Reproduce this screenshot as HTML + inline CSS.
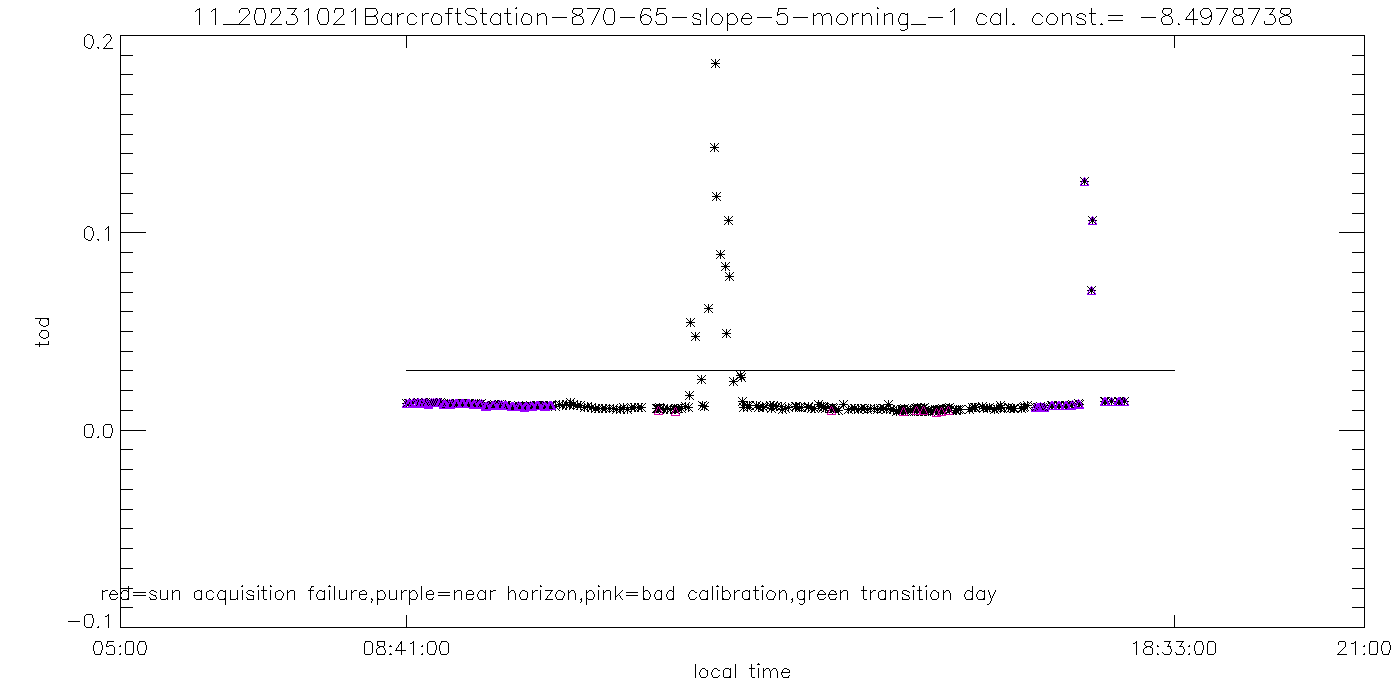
<!DOCTYPE html>
<html lang="en"><head><meta charset="utf-8"><title>tod vs local time</title>
<style>
html,body{margin:0;padding:0;background:#fff;font-family:"Liberation Sans",sans-serif}
svg{display:block;shape-rendering:crispEdges}
path{fill:none;stroke-width:1}
</style></head><body>
<svg width="1400" height="700" viewBox="0 0 1400 700" role="img" aria-label="tod versus local time">
<desc>11_20231021BarcroftStation-870-65-slope-5-morning_-1 cal. const.= -8.4978738. Y axis: tod, 0.2 to -0.1. X axis: local time, 05:00, 08:41:00, 18:33:00, 21:00. red=sun acquisition failure,purple=near horizon,pink=bad calibration,green transition day</desc>
<rect width="1400" height="700" fill="#fff"/>
<g id="axes"><path id="frame" stroke="#000" d="M120 35.5h1245m-1245 1h1m1243 0h1m-1245 1h1m1243 0h1m-1245 1h1m1243 0h1m-1245 1h1m1243 0h1m-1245 1h1m1243 0h1m-1245 1h1m1243 0h1m-1245 1h1m1243 0h1m-1245 1h1m1243 0h1m-1245 1h1m1243 0h1m-1245 1h1m1243 0h1m-1245 1h1m1243 0h1m-1245 1h1m1243 0h1m-1245 1h1m1243 0h1m-1245 1h1m1243 0h1m-1245 1h1m1243 0h1m-1245 1h1m1243 0h1m-1245 1h1m1243 0h1m-1245 1h1m1243 0h1m-1245 1h1m1243 0h1m-1245 1h1m1243 0h1m-1245 1h1m1243 0h1m-1245 1h1m1243 0h1m-1245 1h1m1243 0h1m-1245 1h1m1243 0h1m-1245 1h1m1243 0h1m-1245 1h1m1243 0h1m-1245 1h1m1243 0h1m-1245 1h1m1243 0h1m-1245 1h1m1243 0h1m-1245 1h1m1243 0h1m-1245 1h1m1243 0h1m-1245 1h1m1243 0h1m-1245 1h1m1243 0h1m-1245 1h1m1243 0h1m-1245 1h1m1243 0h1m-1245 1h1m1243 0h1m-1245 1h1m1243 0h1m-1245 1h1m1243 0h1m-1245 1h1m1243 0h1m-1245 1h1m1243 0h1m-1245 1h1m1243 0h1m-1245 1h1m1243 0h1m-1245 1h1m1243 0h1m-1245 1h1m1243 0h1m-1245 1h1m1243 0h1m-1245 1h1m1243 0h1m-1245 1h1m1243 0h1m-1245 1h1m1243 0h1m-1245 1h1m1243 0h1m-1245 1h1m1243 0h1m-1245 1h1m1243 0h1m-1245 1h1m1243 0h1m-1245 1h1m1243 0h1m-1245 1h1m1243 0h1m-1245 1h1m1243 0h1m-1245 1h1m1243 0h1m-1245 1h1m1243 0h1m-1245 1h1m1243 0h1m-1245 1h1m1243 0h1m-1245 1h1m1243 0h1m-1245 1h1m1243 0h1m-1245 1h1m1243 0h1m-1245 1h1m1243 0h1m-1245 1h1m1243 0h1m-1245 1h1m1243 0h1m-1245 1h1m1243 0h1m-1245 1h1m1243 0h1m-1245 1h1m1243 0h1m-1245 1h1m1243 0h1m-1245 1h1m1243 0h1m-1245 1h1m1243 0h1m-1245 1h1m1243 0h1m-1245 1h1m1243 0h1m-1245 1h1m1243 0h1m-1245 1h1m1243 0h1m-1245 1h1m1243 0h1m-1245 1h1m1243 0h1m-1245 1h1m1243 0h1m-1245 1h1m1243 0h1m-1245 1h1m1243 0h1m-1245 1h1m1243 0h1m-1245 1h1m1243 0h1m-1245 1h1m1243 0h1m-1245 1h1m1243 0h1m-1245 1h1m1243 0h1m-1245 1h1m1243 0h1m-1245 1h1m1243 0h1m-1245 1h1m1243 0h1m-1245 1h1m1243 0h1m-1245 1h1m1243 0h1m-1245 1h1m1243 0h1m-1245 1h1m1243 0h1m-1245 1h1m1243 0h1m-1245 1h1m1243 0h1m-1245 1h1m1243 0h1m-1245 1h1m1243 0h1m-1245 1h1m1243 0h1m-1245 1h1m1243 0h1m-1245 1h1m1243 0h1m-1245 1h1m1243 0h1m-1245 1h1m1243 0h1m-1245 1h1m1243 0h1m-1245 1h1m1243 0h1m-1245 1h1m1243 0h1m-1245 1h1m1243 0h1m-1245 1h1m1243 0h1m-1245 1h1m1243 0h1m-1245 1h1m1243 0h1m-1245 1h1m1243 0h1m-1245 1h1m1243 0h1m-1245 1h1m1243 0h1m-1245 1h1m1243 0h1m-1245 1h1m1243 0h1m-1245 1h1m1243 0h1m-1245 1h1m1243 0h1m-1245 1h1m1243 0h1m-1245 1h1m1243 0h1m-1245 1h1m1243 0h1m-1245 1h1m1243 0h1m-1245 1h1m1243 0h1m-1245 1h1m1243 0h1m-1245 1h1m1243 0h1m-1245 1h1m1243 0h1m-1245 1h1m1243 0h1m-1245 1h1m1243 0h1m-1245 1h1m1243 0h1m-1245 1h1m1243 0h1m-1245 1h1m1243 0h1m-1245 1h1m1243 0h1m-1245 1h1m1243 0h1m-1245 1h1m1243 0h1m-1245 1h1m1243 0h1m-1245 1h1m1243 0h1m-1245 1h1m1243 0h1m-1245 1h1m1243 0h1m-1245 1h1m1243 0h1m-1245 1h1m1243 0h1m-1245 1h1m1243 0h1m-1245 1h1m1243 0h1m-1245 1h1m1243 0h1m-1245 1h1m1243 0h1m-1245 1h1m1243 0h1m-1245 1h1m1243 0h1m-1245 1h1m1243 0h1m-1245 1h1m1243 0h1m-1245 1h1m1243 0h1m-1245 1h1m1243 0h1m-1245 1h1m1243 0h1m-1245 1h1m1243 0h1m-1245 1h1m1243 0h1m-1245 1h1m1243 0h1m-1245 1h1m1243 0h1m-1245 1h1m1243 0h1m-1245 1h1m1243 0h1m-1245 1h1m1243 0h1m-1245 1h1m1243 0h1m-1245 1h1m1243 0h1m-1245 1h1m1243 0h1m-1245 1h1m1243 0h1m-1245 1h1m1243 0h1m-1245 1h1m1243 0h1m-1245 1h1m1243 0h1m-1245 1h1m1243 0h1m-1245 1h1m1243 0h1m-1245 1h1m1243 0h1m-1245 1h1m1243 0h1m-1245 1h1m1243 0h1m-1245 1h1m1243 0h1m-1245 1h1m1243 0h1m-1245 1h1m1243 0h1m-1245 1h1m1243 0h1m-1245 1h1m1243 0h1m-1245 1h1m1243 0h1m-1245 1h1m1243 0h1m-1245 1h1m1243 0h1m-1245 1h1m1243 0h1m-1245 1h1m1243 0h1m-1245 1h1m1243 0h1m-1245 1h1m1243 0h1m-1245 1h1m1243 0h1m-1245 1h1m1243 0h1m-1245 1h1m1243 0h1m-1245 1h1m1243 0h1m-1245 1h1m1243 0h1m-1245 1h1m1243 0h1m-1245 1h1m1243 0h1m-1245 1h1m1243 0h1m-1245 1h1m1243 0h1m-1245 1h1m1243 0h1m-1245 1h1m1243 0h1m-1245 1h1m1243 0h1m-1245 1h1m1243 0h1m-1245 1h1m1243 0h1m-1245 1h1m1243 0h1m-1245 1h1m1243 0h1m-1245 1h1m1243 0h1m-1245 1h1m1243 0h1m-1245 1h1m1243 0h1m-1245 1h1m1243 0h1m-1245 1h1m1243 0h1m-1245 1h1m1243 0h1m-1245 1h1m1243 0h1m-1245 1h1m1243 0h1m-1245 1h1m1243 0h1m-1245 1h1m1243 0h1m-1245 1h1m1243 0h1m-1245 1h1m1243 0h1m-1245 1h1m1243 0h1m-1245 1h1m1243 0h1m-1245 1h1m1243 0h1m-1245 1h1m1243 0h1m-1245 1h1m1243 0h1m-1245 1h1m1243 0h1m-1245 1h1m1243 0h1m-1245 1h1m1243 0h1m-1245 1h1m1243 0h1m-1245 1h1m1243 0h1m-1245 1h1m1243 0h1m-1245 1h1m1243 0h1m-1245 1h1m1243 0h1m-1245 1h1m1243 0h1m-1245 1h1m1243 0h1m-1245 1h1m1243 0h1m-1245 1h1m1243 0h1m-1245 1h1m1243 0h1m-1245 1h1m1243 0h1m-1245 1h1m1243 0h1m-1245 1h1m1243 0h1m-1245 1h1m1243 0h1m-1245 1h1m1243 0h1m-1245 1h1m1243 0h1m-1245 1h1m1243 0h1m-1245 1h1m1243 0h1m-1245 1h1m1243 0h1m-1245 1h1m1243 0h1m-1245 1h1m1243 0h1m-1245 1h1m1243 0h1m-1245 1h1m1243 0h1m-1245 1h1m1243 0h1m-1245 1h1m1243 0h1m-1245 1h1m1243 0h1m-1245 1h1m1243 0h1m-1245 1h1m1243 0h1m-1245 1h1m1243 0h1m-1245 1h1m1243 0h1m-1245 1h1m1243 0h1m-1245 1h1m1243 0h1m-1245 1h1m1243 0h1m-1245 1h1m1243 0h1m-1245 1h1m1243 0h1m-1245 1h1m1243 0h1m-1245 1h1m1243 0h1m-1245 1h1m1243 0h1m-1245 1h1m1243 0h1m-1245 1h1m1243 0h1m-1245 1h1m1243 0h1m-1245 1h1m1243 0h1m-1245 1h1m1243 0h1m-1245 1h1m1243 0h1m-1245 1h1m1243 0h1m-1245 1h1m1243 0h1m-1245 1h1m1243 0h1m-1245 1h1m1243 0h1m-1245 1h1m1243 0h1m-1245 1h1m1243 0h1m-1245 1h1m1243 0h1m-1245 1h1m1243 0h1m-1245 1h1m1243 0h1m-1245 1h1m1243 0h1m-1245 1h1m1243 0h1m-1245 1h1m1243 0h1m-1245 1h1m1243 0h1m-1245 1h1m1243 0h1m-1245 1h1m1243 0h1m-1245 1h1m1243 0h1m-1245 1h1m1243 0h1m-1245 1h1m1243 0h1m-1245 1h1m1243 0h1m-1245 1h1m1243 0h1m-1245 1h1m1243 0h1m-1245 1h1m1243 0h1m-1245 1h1m1243 0h1m-1245 1h1m1243 0h1m-1245 1h1m1243 0h1m-1245 1h1m1243 0h1m-1245 1h1m1243 0h1m-1245 1h1m1243 0h1m-1245 1h1m1243 0h1m-1245 1h1m1243 0h1m-1245 1h1m1243 0h1m-1245 1h1m1243 0h1m-1245 1h1m1243 0h1m-1245 1h1m1243 0h1m-1245 1h1m1243 0h1m-1245 1h1m1243 0h1m-1245 1h1m1243 0h1m-1245 1h1m1243 0h1m-1245 1h1m1243 0h1m-1245 1h1m1243 0h1m-1245 1h1m1243 0h1m-1245 1h1m1243 0h1m-1245 1h1m1243 0h1m-1245 1h1m1243 0h1m-1245 1h1m1243 0h1m-1245 1h1m1243 0h1m-1245 1h1m1243 0h1m-1245 1h1m1243 0h1m-1245 1h1m1243 0h1m-1245 1h1m1243 0h1m-1245 1h1m1243 0h1m-1245 1h1m1243 0h1m-1245 1h1m1243 0h1m-1245 1h1m1243 0h1m-1245 1h1m1243 0h1m-1245 1h1m1243 0h1m-1245 1h1m1243 0h1m-1245 1h1m1243 0h1m-1245 1h1m1243 0h1m-1245 1h1m1243 0h1m-1245 1h1m1243 0h1m-1245 1h1m1243 0h1m-1245 1h1m1243 0h1m-1245 1h1m1243 0h1m-1245 1h1m1243 0h1m-1245 1h1m1243 0h1m-1245 1h1m1243 0h1m-1245 1h1m1243 0h1m-1245 1h1m1243 0h1m-1245 1h1m1243 0h1m-1245 1h1m1243 0h1m-1245 1h1m1243 0h1m-1245 1h1m1243 0h1m-1245 1h1m1243 0h1m-1245 1h1m1243 0h1m-1245 1h1m1243 0h1m-1245 1h1m1243 0h1m-1245 1h1m1243 0h1m-1245 1h1m1243 0h1m-1245 1h1m1243 0h1m-1245 1h1m1243 0h1m-1245 1h1m1243 0h1m-1245 1h1m1243 0h1m-1245 1h1m1243 0h1m-1245 1h1m1243 0h1m-1245 1h1m1243 0h1m-1245 1h1m1243 0h1m-1245 1h1m1243 0h1m-1245 1h1m1243 0h1m-1245 1h1m1243 0h1m-1245 1h1m1243 0h1m-1245 1h1m1243 0h1m-1245 1h1m1243 0h1m-1245 1h1m1243 0h1m-1245 1h1m1243 0h1m-1245 1h1m1243 0h1m-1245 1h1m1243 0h1m-1245 1h1m1243 0h1m-1245 1h1m1243 0h1m-1245 1h1m1243 0h1m-1245 1h1m1243 0h1m-1245 1h1m1243 0h1m-1245 1h1m1243 0h1m-1245 1h1m1243 0h1m-1245 1h1m1243 0h1m-1245 1h1m1243 0h1m-1245 1h1m1243 0h1m-1245 1h1m1243 0h1m-1245 1h1m1243 0h1m-1245 1h1m1243 0h1m-1245 1h1m1243 0h1m-1245 1h1m1243 0h1m-1245 1h1m1243 0h1m-1245 1h1m1243 0h1m-1245 1h1m1243 0h1m-1245 1h1m1243 0h1m-1245 1h1m1243 0h1m-1245 1h1m1243 0h1m-1245 1h1m1243 0h1m-1245 1h1m1243 0h1m-1245 1h1m1243 0h1m-1245 1h1m1243 0h1m-1245 1h1m1243 0h1m-1245 1h1m1243 0h1m-1245 1h1m1243 0h1m-1245 1h1m1243 0h1m-1245 1h1m1243 0h1m-1245 1h1m1243 0h1m-1245 1h1m1243 0h1m-1245 1h1m1243 0h1m-1245 1h1m1243 0h1m-1245 1h1m1243 0h1m-1245 1h1m1243 0h1m-1245 1h1m1243 0h1m-1245 1h1m1243 0h1m-1245 1h1m1243 0h1m-1245 1h1m1243 0h1m-1245 1h1m1243 0h1m-1245 1h1m1243 0h1m-1245 1h1m1243 0h1m-1245 1h1m1243 0h1m-1245 1h1m1243 0h1m-1245 1h1m1243 0h1m-1245 1h1m1243 0h1m-1245 1h1m1243 0h1m-1245 1h1m1243 0h1m-1245 1h1m1243 0h1m-1245 1h1m1243 0h1m-1245 1h1m1243 0h1m-1245 1h1m1243 0h1m-1245 1h1m1243 0h1m-1245 1h1m1243 0h1m-1245 1h1m1243 0h1m-1245 1h1m1243 0h1m-1245 1h1m1243 0h1m-1245 1h1m1243 0h1m-1245 1h1m1243 0h1m-1245 1h1m1243 0h1m-1245 1h1m1243 0h1m-1245 1h1m1243 0h1m-1245 1h1m1243 0h1m-1245 1h1m1243 0h1m-1245 1h1m1243 0h1m-1245 1h1m1243 0h1m-1245 1h1m1243 0h1m-1245 1h1m1243 0h1m-1245 1h1m1243 0h1m-1245 1h1m1243 0h1m-1245 1h1m1243 0h1m-1245 1h1m1243 0h1m-1245 1h1m1243 0h1m-1245 1h1m1243 0h1m-1245 1h1m1243 0h1m-1245 1h1m1243 0h1m-1245 1h1m1243 0h1m-1245 1h1m1243 0h1m-1245 1h1m1243 0h1m-1245 1h1m1243 0h1m-1245 1h1m1243 0h1m-1245 1h1m1243 0h1m-1245 1h1m1243 0h1m-1245 1h1m1243 0h1m-1245 1h1m1243 0h1m-1245 1h1m1243 0h1m-1245 1h1m1243 0h1m-1245 1h1m1243 0h1m-1245 1h1m1243 0h1m-1245 1h1m1243 0h1m-1245 1h1m1243 0h1m-1245 1h1m1243 0h1m-1245 1h1m1243 0h1m-1245 1h1m1243 0h1m-1245 1h1m1243 0h1m-1245 1h1m1243 0h1m-1245 1h1m1243 0h1m-1245 1h1m1243 0h1m-1245 1h1m1243 0h1m-1245 1h1m1243 0h1m-1245 1h1m1243 0h1m-1245 1h1m1243 0h1m-1245 1h1m1243 0h1m-1245 1h1m1243 0h1m-1245 1h1m1243 0h1m-1245 1h1m1243 0h1m-1245 1h1m1243 0h1m-1245 1h1m1243 0h1m-1245 1h1m1243 0h1m-1245 1h1m1243 0h1m-1245 1h1m1243 0h1m-1245 1h1m1243 0h1m-1245 1h1m1243 0h1m-1245 1h1m1243 0h1m-1245 1h1m1243 0h1m-1245 1h1m1243 0h1m-1245 1h1m1243 0h1m-1245 1h1m1243 0h1m-1245 1h1m1243 0h1m-1245 1h1m1243 0h1m-1245 1h1m1243 0h1m-1245 1h1m1243 0h1m-1245 1h1m1243 0h1m-1245 1h1m1243 0h1m-1245 1h1m1243 0h1m-1245 1h1m1243 0h1m-1245 1h1m1243 0h1m-1245 1h1m1243 0h1m-1245 1h1m1243 0h1m-1245 1h1m1243 0h1m-1245 1h1m1243 0h1m-1245 1h1m1243 0h1m-1245 1h1m1243 0h1m-1245 1h1m1243 0h1m-1245 1h1m1243 0h1m-1245 1h1m1243 0h1m-1245 1h1m1243 0h1m-1245 1h1m1243 0h1m-1245 1h1m1243 0h1m-1245 1h1m1243 0h1m-1245 1h1m1243 0h1m-1245 1h1m1243 0h1m-1245 1h1m1243 0h1m-1245 1h1m1243 0h1m-1245 1h1m1243 0h1m-1245 1h1m1243 0h1m-1245 1h1m1243 0h1m-1245 1h1m1243 0h1m-1245 1h1m1243 0h1m-1245 1h1m1243 0h1m-1245 1h1m1243 0h1m-1245 1h1m1243 0h1m-1245 1h1m1243 0h1m-1245 1h1m1243 0h1m-1245 1h1m1243 0h1m-1245 1h1m1243 0h1m-1245 1h1m1243 0h1m-1245 1h1m1243 0h1m-1245 1h1m1243 0h1m-1245 1h1m1243 0h1m-1245 1h1m1243 0h1m-1245 1h1m1243 0h1m-1245 1h1m1243 0h1m-1245 1h1m1243 0h1m-1245 1h1m1243 0h1m-1245 1h1m1243 0h1m-1245 1h1m1243 0h1m-1245 1h1m1243 0h1m-1245 1h1m1243 0h1m-1245 1h1m1243 0h1m-1245 1h1m1243 0h1m-1245 1h1m1243 0h1m-1245 1h1m1243 0h1m-1245 1h1m1243 0h1m-1245 1h1m1243 0h1m-1245 1h1m1243 0h1m-1245 1h1m1243 0h1m-1245 1h1m1243 0h1m-1245 1h1m1243 0h1m-1245 1h1m1243 0h1m-1245 1h1m1243 0h1m-1245 1h1m1243 0h1m-1245 1h1m1243 0h1m-1245 1h1m1243 0h1m-1245 1h1m1243 0h1m-1245 1h1m1243 0h1m-1245 1h1m1243 0h1m-1245 1h1m1243 0h1m-1245 1h1m1243 0h1m-1245 1h1m1243 0h1m-1245 1h1m1243 0h1m-1245 1h1m1243 0h1m-1245 1h1m1243 0h1m-1245 1h1m1243 0h1m-1245 1h1m1243 0h1m-1245 1h1m1243 0h1m-1245 1h1m1243 0h1m-1245 1h1m1243 0h1m-1245 1h1m1243 0h1m-1245 1h1m1243 0h1m-1245 1h1m1243 0h1m-1245 1h1m1243 0h1m-1245 1h1m1243 0h1m-1245 1h1m1243 0h1m-1245 1h1m1243 0h1m-1245 1h1m1243 0h1m-1245 1h1m1243 0h1m-1245 1h1m1243 0h1m-1245 1h1m1243 0h1m-1245 1h1m1243 0h1m-1245 1h1m1243 0h1m-1245 1h1m1243 0h1m-1245 1h1m1243 0h1m-1245 1h1m1243 0h1m-1245 1h1m1243 0h1m-1245 1h1m1243 0h1m-1245 1h1m1243 0h1m-1245 1h1m1243 0h1m-1245 1h1m1243 0h1m-1245 1h1m1243 0h1m-1245 1h1m1243 0h1m-1245 1h1m1243 0h1m-1245 1h1m1243 0h1m-1245 1h1m1243 0h1m-1245 1h1m1243 0h1m-1245 1h1m1243 0h1m-1245 1h1m1243 0h1m-1245 1h1m1243 0h1m-1245 1h1m1243 0h1m-1245 1h1m1243 0h1m-1245 1h1m1243 0h1m-1245 1h1m1243 0h1m-1245 1h1m1243 0h1m-1245 1h1m1243 0h1m-1245 1h1245"/>
<path id="ticks" stroke="#000" d="M120 35.5h26m260 0h1m767 0h1m164 0h26m-959 1h1m767 0h1m-769 1h1m767 0h1m-769 1h1m767 0h1m-769 1h1m767 0h1m-769 1h1m767 0h1m-769 1h1m767 0h1m-769 1h1m767 0h1m-769 1h1m767 0h1m-769 1h1m767 0h1m-769 1h1m767 0h1m-769 1h1m767 0h1m-769 1h1m767 0h1m-1055 8h13m1219 0h13m-1245 19h13m1219 0h13m-1245 20h13m1219 0h13m-1245 20h13m1219 0h13m-1245 20h13m1219 0h13m-1245 19h13m1219 0h13m-1245 20h13m1219 0h13m-1245 20h13m1219 0h13m-1245 20h13m1219 0h13m-1245 19h26m1193 0h26m-1245 20h13m1219 0h13m-1245 20h13m1219 0h13m-1245 20h13m1219 0h13m-1245 19h13m1219 0h13m-1245 20h13m1219 0h13m-1245 20h13m1219 0h13m-1245 19h13m1219 0h13m-1245 20h13m1219 0h13m-1245 20h13m1219 0h13m-1245 20h26m1193 0h26m-1245 19h13m1219 0h13m-1245 20h13m1219 0h13m-1245 20h13m1219 0h13m-1245 20h13m1219 0h13m-1245 19h13m1219 0h13m-1245 20h13m1219 0h13m-1245 20h13m1219 0h13m-1245 20h13m1219 0h13m-1245 19h13m1219 0h13m-959 8h1m767 0h1m-769 1h1m767 0h1m-769 1h1m767 0h1m-769 1h1m767 0h1m-769 1h1m767 0h1m-769 1h1m767 0h1m-769 1h1m767 0h1m-769 1h1m767 0h1m-769 1h1m767 0h1m-769 1h1m767 0h1m-769 1h1m767 0h1m-769 1h1m767 0h1m-1055 1h26m260 0h1m767 0h1m164 0h26"/></g>
<g id="labels"><path id="title" stroke="#000" d="M516 7.5h1m360 0h1m-679 1h1m15 0h1m25 0h7m8 0h8m8 0h8m7 0h10m11 0h1m11 0h7m8 0h8m12 0h1m9 0h11m72 0h5m4 0h1m9 0h8m7 0h1m24 0h1m7 0h2m56 0h9m5 0h13m6 0h7m30 0h7m7 0h9m40 0h1m71 0h9m90 0h2m75 0h1m51 0h1m84 0h1m71 0h8m22 0h1m9 0h6m7 0h12m6 0h9m5 0h12m5 0h10m6 0h9m-1093 1h3m13 0h3m24 0h1m7 0h1m7 0h1m6 0h1m7 0h1m7 0h1m15 0h1m10 0h3m10 0h1m7 0h1m7 0h1m7 0h1m10 0h2m9 0h1m10 0h1m71 0h1m8 0h1m8 0h1m8 0h1m6 0h1m24 0h1m65 0h1m8 0h1m16 0h1m5 0h1m7 0h1m28 0h1m7 0h1m6 0h1m48 0h1m71 0h1m174 0h2m51 0h1m84 0h1m71 0h1m7 0h1m20 0h2m8 0h1m6 0h1m17 0h1m6 0h1m7 0h1m16 0h1m13 0h1m7 0h1m8 0h1m-1095 1h1m2 0h1m12 0h1m2 0h1m23 0h1m8 0h1m6 0h1m8 0h1m6 0h1m7 0h1m14 0h1m10 0h1m2 0h1m10 0h1m7 0h1m6 0h1m8 0h1m9 0h1m1 0h1m9 0h1m10 0h1m71 0h1m8 0h1m7 0h1m10 0h1m5 0h1m24 0h1m64 0h1m9 0h1m15 0h1m6 0h1m7 0h1m28 0h1m7 0h1m6 0h1m48 0h1m71 0h1m173 0h1m1 0h1m51 0h1m84 0h1m70 0h1m8 0h1m20 0h2m7 0h1m8 0h1m15 0h1m6 0h1m8 0h1m15 0h1m13 0h1m7 0h1m9 0h1m-1096 1h1m3 0h1m11 0h1m3 0h1m23 0h1m9 0h1m5 0h1m8 0h1m6 0h1m8 0h1m13 0h1m9 0h1m3 0h1m9 0h1m9 0h1m5 0h1m8 0h1m7 0h2m2 0h1m9 0h1m11 0h1m70 0h1m8 0h1m7 0h1m16 0h1m24 0h1m64 0h1m9 0h1m15 0h1m5 0h1m9 0h1m26 0h1m15 0h1m48 0h1m71 0h1m171 0h2m2 0h1m51 0h1m84 0h1m70 0h1m8 0h1m19 0h1m1 0h1m6 0h1m9 0h1m15 0h1m6 0h1m8 0h1m15 0h1m13 0h1m7 0h1m9 0h1m-1092 1h1m15 0h1m23 0h1m9 0h1m5 0h1m8 0h1m6 0h1m8 0h1m12 0h1m14 0h1m9 0h1m9 0h1m5 0h1m8 0h1m11 0h1m9 0h1m11 0h1m70 0h1m8 0h1m7 0h1m16 0h1m24 0h1m64 0h1m9 0h1m14 0h1m6 0h1m9 0h1m26 0h1m14 0h1m49 0h1m70 0h1m176 0h1m51 0h1m84 0h1m70 0h1m8 0h1m18 0h1m2 0h1m6 0h1m10 0h1m13 0h1m7 0h1m8 0h1m14 0h1m13 0h1m8 0h1m9 0h1m-1092 1h1m15 0h1m33 0h1m5 0h1m9 0h1m14 0h1m11 0h1m15 0h1m9 0h1m9 0h1m14 0h1m11 0h1m9 0h1m11 0h1m7 0h4m2 0h1m5 0h1m3 0h3m6 0h4m8 0h1m2 0h4m5 0h4m7 0h7m3 0h6m5 0h1m13 0h7m7 0h4m2 0h1m3 0h7m5 0h1m7 0h4m9 0h1m3 0h4m28 0h2m6 0h1m15 0h1m6 0h1m9 0h1m26 0h1m14 0h1m2 0h5m30 0h5m7 0h1m8 0h4m8 0h1m2 0h4m11 0h4m28 0h1m2 0h5m28 0h1m3 0h4m5 0h4m10 0h4m8 0h1m3 0h3m3 0h1m3 0h4m7 0h1m6 0h1m3 0h4m9 0h4m2 0h1m46 0h1m24 0h4m11 0h4m2 0h1m5 0h1m29 0h4m10 0h4m8 0h1m3 0h4m9 0h4m6 0h7m67 0h1m6 0h1m18 0h1m3 0h1m6 0h1m10 0h1m13 0h1m8 0h1m7 0h1m14 0h1m12 0h1m10 0h2m6 0h1m-1091 1h1m15 0h1m32 0h1m5 0h1m10 0h1m13 0h1m11 0h4m13 0h1m8 0h1m10 0h1m14 0h1m11 0h1m9 0h1m10 0h1m7 0h1m4 0h1m1 0h1m5 0h1m1 0h2m8 0h1m4 0h1m7 0h1m1 0h1m8 0h1m4 0h2m8 0h1m8 0h1m9 0h1m14 0h1m10 0h1m4 0h1m1 0h1m6 0h1m8 0h1m6 0h1m4 0h2m7 0h1m1 0h2m4 0h1m29 0h2m2 0h2m15 0h1m6 0h1m10 0h1m25 0h1m3 0h3m9 0h3m5 0h1m28 0h1m5 0h2m5 0h1m7 0h1m4 0h1m7 0h1m1 0h1m4 0h1m9 0h1m4 0h1m27 0h3m5 0h1m27 0h1m2 0h1m4 0h1m2 0h2m4 0h1m8 0h1m4 0h1m7 0h1m1 0h2m6 0h1m2 0h1m4 0h1m6 0h1m6 0h1m1 0h2m4 0h1m7 0h1m4 0h3m46 0h1m23 0h1m4 0h2m8 0h1m4 0h1m1 0h1m5 0h1m28 0h1m4 0h1m8 0h1m4 0h1m7 0h1m2 0h1m4 0h1m6 0h2m4 0h2m6 0h1m72 0h2m2 0h2m19 0h1m3 0h1m6 0h1m10 0h1m12 0h1m10 0h2m2 0h3m14 0h1m12 0h4m10 0h2m1 0h3m-1090 1h1m15 0h1m31 0h1m6 0h1m10 0h1m13 0h1m15 0h1m12 0h1m8 0h1m10 0h1m13 0h1m12 0h1m9 0h1m8 0h2m7 0h1m6 0h2m5 0h2m9 0h1m6 0h1m6 0h2m9 0h1m6 0h1m7 0h1m8 0h1m10 0h3m11 0h1m9 0h1m6 0h2m6 0h1m8 0h1m6 0h1m6 0h1m6 0h2m6 0h1m30 0h4m16 0h1m6 0h1m10 0h1m25 0h1m1 0h2m3 0h2m7 0h1m8 0h1m27 0h1m6 0h1m5 0h1m6 0h1m6 0h1m6 0h2m6 0h1m7 0h1m6 0h1m26 0h1m8 0h1m26 0h3m5 0h1m1 0h1m6 0h1m7 0h1m6 0h1m6 0h2m8 0h3m5 0h1m6 0h1m6 0h2m6 0h1m7 0h1m6 0h1m46 0h1m23 0h1m6 0h1m6 0h1m6 0h2m5 0h1m27 0h1m6 0h1m6 0h1m6 0h1m6 0h3m5 0h1m6 0h1m7 0h1m5 0h1m16 0h15m42 0h4m19 0h1m4 0h1m7 0h1m8 0h2m12 0h1m11 0h4m16 0h1m16 0h1m10 0h4m-1089 1h1m15 0h1m30 0h1m7 0h1m10 0h1m12 0h1m17 0h1m11 0h1m8 0h1m10 0h1m12 0h1m13 0h1m9 0h11m6 0h1m8 0h1m5 0h2m8 0h1m8 0h1m5 0h1m9 0h1m8 0h1m6 0h1m8 0h1m13 0h3m8 0h1m8 0h1m8 0h1m6 0h1m8 0h1m5 0h1m8 0h1m5 0h1m8 0h1m27 0h2m4 0h2m13 0h1m7 0h1m10 0h1m25 0h2m7 0h2m15 0h1m25 0h1m7 0h1m5 0h1m5 0h1m8 0h1m5 0h1m8 0h1m5 0h1m8 0h1m35 0h1m25 0h1m8 0h1m8 0h1m5 0h1m8 0h1m5 0h2m8 0h1m8 0h1m5 0h1m6 0h1m7 0h1m6 0h1m7 0h1m46 0h1m22 0h1m8 0h1m4 0h1m8 0h1m5 0h1m26 0h1m8 0h1m4 0h1m8 0h1m5 0h1m8 0h1m4 0h1m8 0h1m5 0h1m71 0h2m4 0h2m16 0h1m5 0h1m7 0h1m7 0h3m11 0h1m10 0h2m4 0h2m13 0h1m18 0h1m7 0h2m4 0h2m-1091 1h1m15 0h1m29 0h1m8 0h1m10 0h1m11 0h1m18 0h1m11 0h1m8 0h1m10 0h1m11 0h1m14 0h1m9 0h1m10 0h1m5 0h1m8 0h1m5 0h1m9 0h1m14 0h1m9 0h1m8 0h1m6 0h1m8 0h1m16 0h1m7 0h1m8 0h1m8 0h1m6 0h1m8 0h1m5 0h1m8 0h1m5 0h1m8 0h1m5 0h15m5 0h2m8 0h1m12 0h1m7 0h1m10 0h1m5 0h15m5 0h2m8 0h1m15 0h1m5 0h15m6 0h1m12 0h1m5 0h1m9 0h1m4 0h1m8 0h1m5 0h1m8 0h1m5 0h15m15 0h1m5 0h15m5 0h1m8 0h1m8 0h1m5 0h1m9 0h1m4 0h1m9 0h1m8 0h1m5 0h1m6 0h1m7 0h1m6 0h1m7 0h1m20 0h15m11 0h1m22 0h1m13 0h1m8 0h1m5 0h1m26 0h1m13 0h1m9 0h1m4 0h1m8 0h1m5 0h2m12 0h1m49 0h15m6 0h1m8 0h1m14 0h1m6 0h1m8 0h2m3 0h2m2 0h1m11 0h1m9 0h1m8 0h1m12 0h1m18 0h1m5 0h2m8 0h1m-1092 1h1m15 0h1m28 0h1m9 0h1m10 0h1m10 0h1m20 0h1m10 0h1m8 0h1m10 0h1m10 0h1m15 0h1m9 0h1m10 0h1m4 0h1m9 0h1m5 0h1m9 0h1m14 0h1m8 0h1m9 0h1m6 0h1m8 0h1m17 0h1m6 0h1m7 0h1m9 0h1m6 0h1m8 0h1m4 0h1m9 0h1m5 0h1m8 0h1m25 0h1m9 0h1m11 0h1m8 0h1m10 0h1m25 0h1m10 0h1m14 0h1m27 0h3m9 0h1m4 0h1m10 0h1m4 0h1m9 0h1m3 0h11m35 0h1m25 0h1m8 0h1m8 0h1m4 0h1m10 0h1m4 0h1m9 0h1m8 0h1m5 0h1m6 0h1m7 0h1m5 0h1m8 0h1m46 0h1m21 0h1m13 0h1m9 0h1m5 0h1m25 0h1m13 0h1m10 0h1m4 0h1m8 0h1m7 0h3m9 0h1m69 0h1m9 0h1m14 0h1m6 0h1m10 0h3m4 0h1m10 0h1m9 0h1m9 0h1m11 0h1m20 0h1m3 0h1m10 0h1m-1092 1h1m15 0h1m27 0h1m10 0h1m9 0h1m10 0h1m21 0h1m10 0h1m8 0h1m10 0h1m9 0h1m16 0h1m9 0h1m11 0h1m3 0h1m9 0h1m5 0h1m9 0h1m14 0h1m8 0h1m9 0h1m6 0h1m8 0h1m17 0h1m6 0h1m7 0h1m9 0h1m6 0h1m8 0h1m4 0h1m9 0h1m5 0h1m8 0h1m25 0h1m10 0h1m10 0h1m8 0h1m10 0h1m25 0h1m10 0h1m14 0h1m30 0h3m6 0h1m4 0h1m10 0h1m4 0h1m9 0h1m3 0h1m45 0h1m25 0h1m8 0h1m8 0h1m4 0h1m10 0h1m4 0h1m9 0h1m8 0h1m5 0h1m6 0h1m7 0h1m5 0h1m8 0h1m46 0h1m21 0h1m13 0h1m9 0h1m5 0h1m25 0h1m13 0h1m10 0h1m4 0h1m8 0h1m10 0h2m7 0h1m69 0h1m10 0h1m12 0h13m13 0h1m10 0h1m9 0h1m10 0h1m10 0h1m20 0h1m3 0h1m11 0h1m-1093 1h1m15 0h1m26 0h1m12 0h1m8 0h1m9 0h1m22 0h1m10 0h1m9 0h1m9 0h1m8 0h1m17 0h1m9 0h1m11 0h1m3 0h1m9 0h1m5 0h1m9 0h1m14 0h1m8 0h1m9 0h1m6 0h1m8 0h1m18 0h1m5 0h1m7 0h1m9 0h1m6 0h1m8 0h1m4 0h1m9 0h1m5 0h1m8 0h1m25 0h1m10 0h1m9 0h1m10 0h1m9 0h1m25 0h1m10 0h1m14 0h1m33 0h1m5 0h1m4 0h1m10 0h1m4 0h1m9 0h1m3 0h1m45 0h1m25 0h1m8 0h1m8 0h1m4 0h1m10 0h1m4 0h1m9 0h1m8 0h1m5 0h1m6 0h1m7 0h1m5 0h1m8 0h1m46 0h1m21 0h1m13 0h1m9 0h1m5 0h1m25 0h1m13 0h1m10 0h1m4 0h1m8 0h1m12 0h1m6 0h1m16 0h15m38 0h1m10 0h1m20 0h1m16 0h1m10 0h1m10 0h1m10 0h1m9 0h1m21 0h1m3 0h1m11 0h1m-1093 1h1m15 0h1m25 0h1m13 0h1m8 0h1m8 0h1m12 0h1m10 0h1m10 0h1m9 0h1m9 0h1m7 0h1m18 0h1m9 0h1m11 0h1m3 0h1m9 0h1m5 0h1m9 0h1m14 0h1m8 0h1m9 0h1m6 0h1m8 0h1m18 0h1m5 0h1m7 0h1m9 0h1m6 0h1m8 0h1m4 0h1m9 0h1m5 0h1m8 0h1m25 0h1m10 0h1m9 0h1m10 0h1m9 0h1m26 0h1m8 0h1m4 0h1m10 0h1m33 0h1m5 0h1m4 0h1m9 0h1m5 0h1m9 0h1m3 0h1m34 0h1m10 0h1m25 0h1m8 0h1m8 0h1m4 0h1m9 0h1m5 0h1m9 0h1m8 0h1m5 0h1m6 0h1m7 0h1m5 0h1m8 0h1m46 0h1m21 0h1m13 0h1m9 0h1m5 0h1m25 0h1m13 0h1m9 0h1m5 0h1m8 0h1m13 0h1m5 0h1m69 0h1m10 0h1m20 0h1m16 0h1m10 0h1m10 0h1m10 0h1m9 0h1m10 0h1m10 0h1m3 0h1m11 0h1m-1093 1h1m15 0h1m24 0h1m14 0h1m8 0h1m7 0h1m13 0h1m9 0h1m11 0h1m10 0h1m7 0h1m7 0h1m19 0h1m9 0h1m11 0h1m4 0h1m8 0h1m5 0h1m9 0h1m8 0h1m5 0h1m9 0h1m8 0h1m6 0h1m8 0h1m7 0h1m10 0h1m5 0h1m8 0h1m8 0h1m6 0h1m8 0h1m5 0h1m8 0h1m5 0h1m8 0h1m25 0h1m10 0h1m8 0h1m12 0h1m7 0h1m27 0h1m8 0h1m5 0h1m9 0h1m25 0h1m7 0h1m5 0h1m5 0h1m8 0h1m5 0h1m8 0h1m5 0h1m8 0h1m25 0h1m9 0h1m25 0h1m8 0h1m8 0h1m5 0h1m8 0h1m5 0h1m9 0h1m8 0h1m5 0h1m6 0h1m7 0h1m6 0h1m7 0h1m46 0h1m22 0h1m8 0h1m4 0h1m8 0h1m5 0h1m26 0h1m8 0h1m4 0h1m8 0h1m5 0h1m8 0h1m4 0h1m8 0h1m5 0h1m70 0h1m9 0h1m20 0h1m7 0h1m7 0h1m10 0h1m12 0h1m9 0h1m8 0h1m11 0h1m9 0h1m5 0h1m10 0h1m-1093 1h1m15 0h1m23 0h1m16 0h1m6 0h1m7 0h1m14 0h1m8 0h1m12 0h1m10 0h1m7 0h1m6 0h1m20 0h1m9 0h1m10 0h1m6 0h1m6 0h2m5 0h1m10 0h1m6 0h1m6 0h1m9 0h1m7 0h1m7 0h1m9 0h1m7 0h1m8 0h1m7 0h1m8 0h1m6 0h2m7 0h1m7 0h1m5 0h1m7 0h1m6 0h1m8 0h1m25 0h1m9 0h1m9 0h1m12 0h1m7 0h1m28 0h1m6 0h1m6 0h1m8 0h1m27 0h1m6 0h1m5 0h1m6 0h1m6 0h1m6 0h2m6 0h1m7 0h1m6 0h1m26 0h1m8 0h1m26 0h1m8 0h1m8 0h1m6 0h1m6 0h1m6 0h1m9 0h1m8 0h1m5 0h1m6 0h1m7 0h1m6 0h1m6 0h2m46 0h1m22 0h1m7 0h1m6 0h1m6 0h2m5 0h1m6 0h1m20 0h1m6 0h1m6 0h1m6 0h1m6 0h1m8 0h1m5 0h1m7 0h1m6 0h1m8 0h1m60 0h1m8 0h1m6 0h1m14 0h1m8 0h1m6 0h1m10 0h1m12 0h1m8 0h1m9 0h1m11 0h1m8 0h1m6 0h1m9 0h1m-1092 1h1m15 0h1m7 0h27m6 0h8m6 0h12m5 0h8m13 0h1m11 0h7m6 0h12m10 0h1m9 0h11m8 0h6m1 0h1m5 0h1m11 0h6m7 0h1m10 0h7m8 0h1m9 0h4m5 0h8m8 0h4m6 0h6m1 0h1m7 0h4m4 0h1m6 0h7m7 0h1m8 0h1m26 0h9m9 0h1m14 0h7m30 0h6m8 0h8m28 0h8m5 0h1m7 0h6m7 0h1m1 0h6m9 0h6m28 0h8m27 0h1m8 0h1m8 0h1m7 0h6m7 0h1m9 0h1m8 0h1m5 0h1m6 0h1m7 0h1m7 0h8m3 0h15m28 0h1m23 0h7m8 0h6m1 0h1m5 0h1m5 0h3m20 0h6m8 0h6m7 0h1m8 0h1m5 0h8m7 0h4m4 0h3m60 0h8m7 0h2m13 0h1m8 0h7m10 0h1m14 0h9m8 0h1m13 0h8m8 0h9m-563 1h1m179 0h1m-181 1h1m179 0h1m-181 1h1m179 0h1m-181 1h1m179 0h1m-181 1h1m172 0h1m4 0h2m-180 1h1m173 0h4"/>
<path id="ylabels" stroke="#000" d="M87 34.5h3m16 0h4m-24 1h1m3 0h2m13 0h1m4 0h1m-26 1h1m6 0h1m11 0h1m5 0h1m-27 1h1m7 0h1m10 0h1m7 0h1m-28 1h1m7 0h1m18 0h1m-28 1h1m8 0h1m16 0h1m-27 1h1m8 0h1m16 0h1m-27 1h1m8 0h1m15 0h1m-26 1h1m8 0h1m14 0h1m-25 1h1m8 0h1m13 0h1m-24 1h1m7 0h1m13 0h1m-23 1h1m7 0h1m13 0h1m-22 1h1m5 0h1m13 0h1m-20 1h2m3 0h1m5 0h2m5 0h1m-17 1h3m7 0h1m4 0h10m-26 178h3m18 0h1m-23 1h1m3 0h2m15 0h2m-24 1h1m6 0h1m13 0h1m1 0h1m-25 1h1m7 0h1m12 0h1m2 0h1m-25 1h1m7 0h1m15 0h1m-25 1h1m8 0h1m14 0h1m-25 1h1m8 0h1m14 0h1m-25 1h1m8 0h1m14 0h1m-25 1h1m8 0h1m14 0h1m-25 1h1m8 0h1m14 0h1m-25 1h1m7 0h1m15 0h1m-25 1h1m7 0h1m15 0h1m-24 1h1m5 0h1m16 0h1m-23 1h2m3 0h1m5 0h2m9 0h1m-21 1h3m7 0h1m9 0h1m-23 184h6m13 0h6m-26 1h1m6 0h1m11 0h1m6 0h1m-28 1h1m7 0h1m10 0h1m7 0h1m-28 1h1m7 0h1m10 0h1m7 0h1m-28 1h1m8 0h1m9 0h1m8 0h1m-29 1h1m8 0h1m9 0h1m8 0h1m-29 1h1m8 0h1m9 0h1m8 0h1m-29 1h1m8 0h1m9 0h1m8 0h1m-29 1h1m8 0h1m9 0h1m8 0h1m-29 1h1m7 0h1m10 0h1m7 0h1m-28 1h1m7 0h1m10 0h1m7 0h1m-28 1h1m7 0h1m10 0h1m7 0h1m-27 1h1m5 0h1m6 0h1m5 0h1m5 0h1m-25 1h6m5 0h2m6 0h6m-25 177h6m16 0h1m-24 1h1m6 0h1m14 0h2m-25 1h1m7 0h1m12 0h2m1 0h1m-25 1h1m7 0h1m15 0h1m-25 1h1m8 0h1m14 0h1m-25 1h1m8 0h1m14 0h1m-25 1h1m8 0h1m14 0h1m-41 1h12m4 0h1m8 0h1m14 0h1m-25 1h1m8 0h1m14 0h1m-25 1h1m7 0h1m15 0h1m-25 1h1m7 0h1m15 0h1m-25 1h1m7 0h1m15 0h1m-24 1h1m5 0h1m6 0h1m9 0h1m-23 1h6m5 0h2m9 0h1"/>
<path id="xlabels" stroke="#000" d="M95 641.5h6m6 0h7m12 0h7m6 0h6m220 0h6m6 0h8m16 0h1m11 0h1m15 0h6m6 0h6m689 0h1m8 0h7m12 0h7m5 0h8m12 0h6m6 0h6m125 0h6m10 0h1m14 0h7m6 0h6m-1294 1h1m5 0h1m5 0h1m18 0h1m6 0h1m5 0h1m5 0h1m219 0h1m5 0h1m5 0h1m6 0h1m15 0h2m10 0h2m14 0h1m6 0h1m5 0h1m5 0h1m687 0h2m8 0h1m6 0h1m16 0h1m12 0h1m13 0h1m5 0h1m5 0h1m5 0h1m123 0h1m6 0h1m8 0h2m14 0h1m6 0h1m5 0h1m5 0h1m-1296 1h1m6 0h1m5 0h1m17 0h1m7 0h1m4 0h1m6 0h1m218 0h1m7 0h1m4 0h1m6 0h1m15 0h2m8 0h2m1 0h1m13 0h1m7 0h1m4 0h1m7 0h1m684 0h2m1 0h1m7 0h1m7 0h1m16 0h1m11 0h1m13 0h1m6 0h1m4 0h1m7 0h1m122 0h1m6 0h1m5 0h3m1 0h1m13 0h1m7 0h1m4 0h1m6 0h1m-1296 1h1m6 0h1m4 0h1m18 0h1m7 0h1m4 0h1m6 0h1m218 0h1m7 0h1m4 0h1m6 0h1m14 0h1m1 0h1m11 0h1m13 0h1m7 0h1m4 0h1m7 0h1m687 0h1m7 0h1m7 0h1m15 0h1m12 0h1m13 0h1m6 0h1m4 0h1m7 0h1m122 0h1m6 0h1m9 0h1m13 0h1m7 0h1m4 0h1m6 0h1m-1297 1h1m8 0h1m3 0h1m2 0h4m7 0h1m4 0h1m7 0h1m3 0h1m8 0h1m217 0h1m7 0h1m4 0h2m5 0h1m5 0h1m7 0h1m2 0h1m11 0h1m8 0h1m4 0h1m8 0h1m2 0h1m8 0h1m687 0h1m8 0h1m5 0h1m5 0h1m10 0h1m11 0h1m8 0h1m4 0h1m8 0h1m3 0h1m7 0h1m129 0h1m9 0h1m8 0h1m4 0h1m7 0h1m3 0h1m8 0h1m-1298 1h1m8 0h1m3 0h3m4 0h1m5 0h2m4 0h1m7 0h1m3 0h1m8 0h1m217 0h1m7 0h1m6 0h5m5 0h3m6 0h1m2 0h1m11 0h1m7 0h2m4 0h1m8 0h1m2 0h1m8 0h1m687 0h1m9 0h5m6 0h2m8 0h4m8 0h4m5 0h2m4 0h1m8 0h1m3 0h1m7 0h1m129 0h1m9 0h1m7 0h2m4 0h1m7 0h1m3 0h1m8 0h1m-1298 1h1m8 0h1m11 0h1m10 0h1m7 0h1m3 0h1m8 0h1m217 0h1m7 0h1m5 0h2m3 0h1m13 0h1m3 0h1m11 0h1m13 0h1m8 0h1m2 0h1m8 0h1m687 0h1m8 0h2m3 0h2m18 0h1m12 0h1m10 0h1m8 0h1m3 0h1m7 0h1m128 0h1m10 0h1m13 0h1m7 0h1m3 0h1m8 0h1m-1298 1h1m8 0h1m11 0h1m10 0h1m7 0h1m3 0h1m8 0h1m217 0h1m7 0h1m4 0h1m6 0h1m11 0h1m4 0h1m11 0h1m13 0h1m8 0h1m2 0h1m8 0h1m687 0h1m7 0h1m7 0h1m17 0h1m12 0h1m10 0h1m8 0h1m3 0h1m7 0h1m127 0h1m11 0h1m13 0h1m7 0h1m3 0h1m8 0h1m-1298 1h1m8 0h1m11 0h1m10 0h1m7 0h1m3 0h1m8 0h1m217 0h1m7 0h1m3 0h1m7 0h1m11 0h1m4 0h1m11 0h1m13 0h1m8 0h1m2 0h1m8 0h1m687 0h1m6 0h1m8 0h1m18 0h1m12 0h1m9 0h1m8 0h1m3 0h1m7 0h1m126 0h1m12 0h1m13 0h1m7 0h1m3 0h1m8 0h1m-1298 1h1m7 0h1m12 0h1m10 0h1m7 0h1m3 0h1m7 0h1m218 0h1m7 0h1m3 0h1m8 0h1m9 0h11m7 0h1m13 0h1m7 0h1m3 0h1m8 0h1m687 0h1m6 0h1m8 0h1m18 0h1m12 0h1m9 0h1m7 0h1m4 0h1m7 0h1m125 0h1m13 0h1m13 0h1m7 0h1m3 0h1m7 0h1m-1296 1h1m6 0h1m12 0h1m10 0h1m7 0h1m4 0h1m6 0h1m218 0h1m7 0h1m3 0h1m8 0h1m15 0h1m11 0h1m13 0h1m7 0h1m4 0h1m7 0h1m687 0h1m6 0h1m8 0h1m18 0h1m12 0h1m10 0h1m6 0h1m4 0h1m7 0h1m124 0h1m14 0h1m13 0h1m7 0h1m4 0h1m6 0h1m-1296 1h1m6 0h1m4 0h1m7 0h1m10 0h1m7 0h1m4 0h1m6 0h1m218 0h1m7 0h1m3 0h1m8 0h1m15 0h1m11 0h1m13 0h1m7 0h1m4 0h1m7 0h1m687 0h1m6 0h1m8 0h1m9 0h1m7 0h1m4 0h1m7 0h1m11 0h1m6 0h1m4 0h1m7 0h1m123 0h1m15 0h1m13 0h1m7 0h1m4 0h1m6 0h1m-1296 1h1m5 0h1m5 0h1m7 0h1m5 0h1m4 0h1m6 0h1m5 0h1m5 0h1m219 0h1m6 0h1m5 0h1m6 0h1m5 0h1m10 0h1m11 0h1m8 0h1m5 0h1m5 0h1m5 0h1m6 0h1m688 0h1m7 0h1m7 0h1m4 0h1m5 0h1m6 0h1m5 0h1m6 0h1m5 0h1m5 0h1m5 0h1m5 0h1m6 0h1m123 0h1m16 0h1m8 0h1m4 0h1m6 0h1m5 0h1m5 0h1m-1294 1h6m6 0h7m5 0h2m5 0h7m6 0h6m220 0h6m6 0h8m4 0h3m9 0h1m11 0h1m7 0h2m6 0h6m6 0h6m689 0h1m8 0h7m5 0h2m5 0h6m6 0h7m5 0h2m6 0h6m6 0h6m123 0h10m8 0h1m7 0h2m5 0h7m6 0h6"/>
<path id="xtitle" stroke="#000" d="M758 663.5h1m-64 1h1m39 0h1m15 0h1m5 0h3m-65 1h1m39 0h1m15 0h1m-57 1h1m39 0h1m15 0h1m-57 1h1m39 0h1m15 0h1m-57 1h1m6 0h3m9 0h3m8 0h4m1 0h1m4 0h1m13 0h6m3 0h1m4 0h1m2 0h3m4 0h3m8 0h3m-92 1h1m5 0h1m3 0h1m7 0h1m3 0h1m6 0h1m4 0h2m4 0h1m15 0h1m6 0h1m4 0h1m1 0h1m3 0h1m2 0h1m3 0h1m6 0h1m3 0h2m-94 1h1m4 0h1m5 0h2m4 0h1m5 0h2m3 0h1m6 0h1m4 0h1m15 0h1m6 0h1m4 0h2m4 0h1m1 0h1m4 0h1m5 0h1m6 0h1m-95 1h1m4 0h1m6 0h1m4 0h1m10 0h1m6 0h1m4 0h1m15 0h1m6 0h1m4 0h1m6 0h1m6 0h1m4 0h1m6 0h1m-95 1h1m3 0h1m7 0h1m3 0h1m11 0h1m6 0h1m4 0h1m15 0h1m6 0h1m4 0h1m6 0h1m6 0h1m3 0h9m-95 1h1m3 0h1m7 0h1m3 0h1m11 0h1m6 0h1m4 0h1m15 0h1m6 0h1m4 0h1m6 0h1m6 0h1m3 0h1m-87 1h1m3 0h1m7 0h1m3 0h1m11 0h1m6 0h1m4 0h1m15 0h1m6 0h1m4 0h1m6 0h1m6 0h1m3 0h1m-87 1h1m4 0h1m6 0h1m4 0h1m6 0h1m3 0h1m6 0h1m4 0h1m15 0h1m6 0h1m4 0h1m6 0h1m6 0h1m4 0h1m6 0h1m-95 1h1m4 0h1m5 0h1m5 0h1m5 0h1m4 0h1m5 0h2m4 0h1m15 0h1m6 0h1m4 0h1m6 0h1m6 0h1m4 0h1m5 0h1m-94 1h1m5 0h5m7 0h5m6 0h7m4 0h1m16 0h3m3 0h1m4 0h1m6 0h1m6 0h1m5 0h6"/>
<path id="ytitle" stroke="#000" d="M35 318.5h14m-9 1h1m6 0h2m-9 1h1m7 0h1m-10 1h1m8 0h1m-10 1h1m8 0h1m-10 1h1m8 0h1m-9 1h1m7 0h1m-8 1h2m3 0h2m-5 1h3m-5 4h6m-6 1h1m5 0h1m-8 1h1m7 0h1m-10 1h1m8 0h1m-10 1h1m8 0h1m-10 1h1m8 0h1m-9 1h1m7 0h1m-8 1h2m3 0h2m-5 1h3m2 3h1m-10 1h1m8 0h1m-10 1h1m8 0h1m-14 1h14m-10 1h1m-1 1h1"/>
<path id="note" stroke="#000" d="M242 585.5h1m15 0h1m11 0h1m58 0h1m210 0h1m57 0h1m118 0h1m44 0h1m150 0h1m12 0h1m-799 1h1m112 0h2m14 0h2m4 0h1m6 0h2m39 0h3m14 0h3m3 0h1m86 0h1m86 0h1m31 0h2m56 0h2m15 0h1m27 0h1m29 0h1m38 0h1m3 0h3m3 0h1m32 0h1m5 0h3m99 0h1m48 0h3m4 0h1m5 0h2m45 0h1m-845 1h1m134 0h1m47 0h1m22 0h1m86 0h1m86 0h1m106 0h1m27 0h1m29 0h1m38 0h1m9 0h1m32 0h1m107 0h1m55 0h1m52 0h1m-845 1h1m134 0h1m46 0h1m23 0h1m86 0h1m86 0h1m106 0h1m27 0h1m29 0h1m38 0h1m9 0h1m32 0h1m107 0h1m55 0h1m52 0h1m-845 1h1m134 0h1m46 0h1m23 0h1m86 0h1m86 0h1m106 0h1m27 0h1m29 0h1m38 0h1m9 0h1m32 0h1m107 0h1m55 0h1m52 0h1m-871 1h1m2 0h3m4 0h3m8 0h4m1 0h1m22 0h3m6 0h1m6 0h1m4 0h1m2 0h4m18 0h3m1 0h1m7 0h3m8 0h3m2 0h1m4 0h1m6 0h1m4 0h1m5 0h4m6 0h1m2 0h6m3 0h1m7 0h3m6 0h1m2 0h4m14 0h6m5 0h3m2 0h1m4 0h1m4 0h1m4 0h1m6 0h1m4 0h1m2 0h3m5 0h3m12 0h1m2 0h3m6 0h1m6 0h1m4 0h1m2 0h3m2 0h1m2 0h3m6 0h1m7 0h3m22 0h1m2 0h4m7 0h4m8 0h3m2 0h1m4 0h1m2 0h3m12 0h1m2 0h3m8 0h3m7 0h1m2 0h3m2 0h1m4 0h8m5 0h3m7 0h1m2 0h3m12 0h1m2 0h3m6 0h1m4 0h1m2 0h4m5 0h1m6 0h1m20 0h1m1 0h3m9 0h3m1 0h1m7 0h3m1 0h1m17 0h3m8 0h3m2 0h1m4 0h1m4 0h1m4 0h1m2 0h3m6 0h1m2 0h3m5 0h3m1 0h1m3 0h6m3 0h1m6 0h3m7 0h1m2 0h3m15 0h3m1 0h1m4 0h1m3 0h2m5 0h3m8 0h3m6 0h1m2 0h4m14 0h6m3 0h1m2 0h3m5 0h3m1 0h1m4 0h1m2 0h4m6 0h4m6 0h1m3 0h5m4 0h1m6 0h3m7 0h1m2 0h3m18 0h3m2 0h1m6 0h3m2 0h1m3 0h1m6 0h1m-894 1h3m6 0h1m3 0h1m6 0h1m4 0h2m21 0h1m3 0h2m4 0h1m6 0h1m4 0h1m1 0h1m4 0h1m15 0h2m3 0h2m5 0h2m3 0h1m6 0h1m3 0h3m4 0h1m6 0h1m4 0h1m4 0h1m4 0h2m4 0h1m4 0h1m6 0h1m5 0h2m3 0h1m5 0h1m1 0h1m4 0h1m15 0h1m7 0h1m3 0h3m4 0h1m4 0h1m4 0h1m6 0h1m4 0h1m1 0h1m6 0h2m3 0h1m11 0h3m3 0h1m5 0h1m6 0h1m4 0h1m1 0h1m5 0h1m1 0h1m3 0h1m5 0h1m5 0h2m3 0h1m21 0h1m1 0h1m4 0h1m5 0h1m4 0h1m6 0h1m3 0h1m1 0h1m4 0h3m15 0h1m1 0h1m3 0h1m6 0h1m3 0h2m5 0h1m1 0h1m5 0h1m10 0h1m5 0h1m3 0h2m5 0h1m1 0h1m3 0h1m11 0h1m1 0h1m3 0h1m5 0h1m4 0h1m1 0h1m4 0h1m4 0h1m5 0h1m21 0h2m3 0h1m7 0h1m3 0h2m6 0h1m3 0h2m16 0h1m3 0h1m6 0h1m3 0h3m4 0h1m4 0h1m4 0h3m3 0h1m5 0h1m1 0h1m6 0h2m3 0h2m5 0h1m6 0h1m5 0h1m3 0h2m5 0h1m1 0h1m3 0h1m12 0h2m3 0h2m4 0h1m1 0h2m6 0h1m3 0h1m6 0h1m3 0h2m4 0h1m1 0h1m4 0h1m15 0h1m6 0h1m1 0h1m6 0h2m3 0h2m4 0h1m1 0h1m4 0h1m4 0h1m4 0h2m4 0h1m5 0h1m6 0h1m5 0h1m3 0h1m6 0h1m1 0h1m3 0h1m16 0h1m3 0h3m5 0h1m3 0h3m3 0h1m6 0h1m-894 1h1m7 0h1m5 0h1m4 0h1m6 0h1m4 0h13m3 0h1m6 0h1m3 0h1m6 0h1m4 0h2m5 0h1m14 0h1m6 0h1m4 0h1m6 0h1m4 0h1m6 0h1m4 0h1m6 0h1m4 0h1m3 0h1m6 0h1m4 0h1m4 0h1m6 0h1m4 0h1m6 0h1m4 0h2m5 0h1m15 0h1m6 0h1m6 0h1m4 0h1m4 0h1m4 0h1m6 0h1m4 0h2m6 0h1m6 0h1m10 0h1m6 0h1m4 0h1m6 0h1m4 0h2m6 0h2m5 0h1m4 0h1m4 0h1m6 0h1m4 0h12m4 0h2m5 0h1m4 0h1m6 0h1m4 0h1m5 0h2m4 0h1m17 0h2m4 0h1m5 0h1m6 0h1m4 0h2m6 0h1m9 0h1m5 0h1m6 0h1m4 0h2m4 0h1m11 0h2m5 0h1m4 0h1m4 0h2m5 0h1m4 0h1m4 0h1m5 0h12m5 0h1m5 0h1m5 0h1m5 0h1m5 0h1m5 0h1m15 0h1m5 0h2m3 0h1m6 0h1m4 0h1m4 0h1m4 0h1m6 0h1m4 0h2m6 0h1m6 0h1m5 0h1m6 0h1m4 0h1m6 0h1m4 0h2m4 0h1m11 0h1m6 0h1m4 0h2m7 0h1m5 0h1m4 0h1m5 0h1m4 0h2m5 0h1m15 0h1m6 0h2m6 0h1m6 0h1m4 0h2m5 0h1m4 0h1m6 0h1m3 0h1m5 0h1m6 0h1m4 0h1m5 0h2m4 0h2m4 0h1m15 0h1m6 0h1m4 0h1m6 0h1m4 0h1m4 0h1m-893 1h1m7 0h1m6 0h1m3 0h1m6 0h1m21 0h1m9 0h1m6 0h1m4 0h1m6 0h1m14 0h1m6 0h1m4 0h1m11 0h1m6 0h1m4 0h1m6 0h1m4 0h1m4 0h1m10 0h1m4 0h1m6 0h1m4 0h1m7 0h1m3 0h1m6 0h1m15 0h1m6 0h1m6 0h1m4 0h1m4 0h1m4 0h1m6 0h1m4 0h1m7 0h1m6 0h1m10 0h1m6 0h1m4 0h1m6 0h1m4 0h1m7 0h1m6 0h1m4 0h1m4 0h1m6 0h1m20 0h1m6 0h1m4 0h1m6 0h1m4 0h1m6 0h1m4 0h1m17 0h1m6 0h1m4 0h1m6 0h1m4 0h1m7 0h1m9 0h1m5 0h1m7 0h1m3 0h1m6 0h1m10 0h1m6 0h1m4 0h1m4 0h1m6 0h1m4 0h1m3 0h1m23 0h1m5 0h1m5 0h1m5 0h1m5 0h1m5 0h1m15 0h1m10 0h1m6 0h1m4 0h1m4 0h1m4 0h1m6 0h1m4 0h1m7 0h1m6 0h1m5 0h1m6 0h1m4 0h1m7 0h1m3 0h1m6 0h1m10 0h1m6 0h1m4 0h1m8 0h1m6 0h1m3 0h1m6 0h1m3 0h1m6 0h1m15 0h1m6 0h1m7 0h1m6 0h1m4 0h1m6 0h1m4 0h2m9 0h1m5 0h1m6 0h1m4 0h1m6 0h1m4 0h1m6 0h1m14 0h1m6 0h1m4 0h1m6 0h1m4 0h1m4 0h1m-893 1h1m6 0h9m2 0h1m7 0h1m22 0h2m7 0h1m6 0h1m4 0h1m6 0h1m14 0h1m6 0h1m4 0h1m10 0h1m7 0h1m4 0h1m6 0h1m4 0h1m5 0h2m8 0h1m4 0h1m6 0h1m4 0h1m7 0h1m3 0h1m6 0h1m15 0h1m5 0h1m7 0h1m4 0h1m4 0h1m4 0h1m6 0h1m4 0h1m7 0h8m10 0h1m7 0h1m3 0h1m6 0h1m4 0h1m7 0h1m7 0h1m3 0h1m4 0h8m20 0h1m6 0h1m4 0h8m3 0h1m7 0h1m4 0h1m17 0h1m6 0h1m3 0h1m7 0h1m4 0h1m7 0h1m8 0h1m5 0h1m8 0h1m3 0h1m6 0h1m10 0h1m7 0h1m3 0h1m4 0h1m6 0h1m4 0h1m2 0h1m24 0h1m6 0h1m3 0h1m6 0h1m4 0h1m6 0h1m14 0h1m10 0h1m7 0h1m4 0h1m4 0h1m4 0h1m7 0h1m3 0h1m7 0h1m6 0h1m5 0h1m6 0h1m3 0h1m8 0h1m3 0h1m6 0h1m10 0h1m6 0h1m4 0h1m7 0h9m2 0h9m3 0h1m6 0h1m15 0h1m6 0h1m7 0h1m6 0h1m4 0h1m6 0h1m6 0h2m7 0h1m5 0h1m6 0h1m3 0h1m7 0h1m4 0h1m6 0h1m13 0h1m7 0h1m3 0h1m7 0h1m4 0h1m3 0h1m-892 1h1m6 0h1m10 0h1m7 0h1m4 0h13m7 0h3m4 0h1m6 0h1m4 0h1m6 0h1m14 0h1m6 0h1m4 0h1m10 0h1m7 0h1m4 0h1m6 0h1m4 0h1m7 0h4m4 0h1m4 0h1m6 0h1m4 0h1m7 0h1m3 0h1m6 0h1m15 0h1m5 0h1m7 0h1m4 0h1m4 0h1m4 0h1m6 0h1m4 0h1m7 0h1m17 0h1m7 0h1m3 0h1m6 0h1m4 0h1m7 0h1m7 0h1m3 0h1m4 0h1m11 0h12m4 0h1m6 0h1m4 0h1m10 0h1m7 0h1m4 0h1m17 0h1m6 0h1m3 0h1m7 0h1m4 0h1m7 0h1m7 0h1m6 0h1m8 0h1m3 0h1m6 0h1m10 0h1m7 0h1m3 0h1m4 0h1m6 0h1m4 0h1m1 0h1m1 0h1m6 0h12m5 0h1m6 0h1m3 0h1m6 0h1m4 0h1m6 0h1m14 0h1m10 0h1m7 0h1m4 0h1m4 0h1m4 0h1m7 0h1m3 0h1m7 0h1m6 0h1m5 0h1m6 0h1m3 0h1m8 0h1m3 0h1m6 0h1m10 0h1m6 0h1m4 0h1m7 0h1m10 0h1m11 0h1m6 0h1m15 0h1m6 0h1m7 0h1m6 0h1m4 0h1m6 0h1m8 0h3m4 0h1m5 0h1m6 0h1m3 0h1m7 0h1m4 0h1m6 0h1m13 0h1m7 0h1m3 0h1m7 0h1m5 0h1m2 0h1m-892 1h1m6 0h1m10 0h1m7 0h1m26 0h1m4 0h1m6 0h1m4 0h1m6 0h1m14 0h1m6 0h1m4 0h1m10 0h1m7 0h1m4 0h1m6 0h1m4 0h1m10 0h1m4 0h1m4 0h1m6 0h1m4 0h1m6 0h1m4 0h1m6 0h1m15 0h1m5 0h1m7 0h1m4 0h1m4 0h1m4 0h1m6 0h1m4 0h1m7 0h1m17 0h1m7 0h1m3 0h1m6 0h1m4 0h1m7 0h1m7 0h1m3 0h1m4 0h1m27 0h1m6 0h1m4 0h1m10 0h1m7 0h1m4 0h1m17 0h1m6 0h1m3 0h1m7 0h1m4 0h1m7 0h1m6 0h1m7 0h1m7 0h1m4 0h1m6 0h1m10 0h1m7 0h1m3 0h1m4 0h1m6 0h1m4 0h2m3 0h1m22 0h1m6 0h1m3 0h1m6 0h1m4 0h1m6 0h1m14 0h1m10 0h1m7 0h1m4 0h1m4 0h1m4 0h1m7 0h1m3 0h1m7 0h1m6 0h1m5 0h1m6 0h1m3 0h1m7 0h1m4 0h1m6 0h1m10 0h1m6 0h1m4 0h1m7 0h1m10 0h1m11 0h1m6 0h1m15 0h1m6 0h1m7 0h1m6 0h1m4 0h1m6 0h1m10 0h1m4 0h1m5 0h1m6 0h1m3 0h1m7 0h1m4 0h1m6 0h1m13 0h1m7 0h1m3 0h1m7 0h1m5 0h1m1 0h1m-891 1h1m7 0h1m6 0h1m3 0h1m6 0h1m20 0h1m6 0h1m3 0h1m6 0h1m4 0h1m6 0h1m14 0h1m6 0h1m4 0h1m6 0h1m4 0h1m6 0h1m4 0h1m6 0h1m4 0h1m3 0h1m6 0h1m4 0h1m4 0h1m6 0h1m4 0h1m6 0h1m4 0h1m6 0h1m15 0h1m6 0h1m6 0h1m4 0h1m4 0h1m4 0h1m6 0h1m4 0h1m7 0h1m6 0h1m10 0h1m6 0h1m4 0h1m6 0h1m4 0h1m7 0h1m6 0h1m4 0h1m4 0h1m6 0h1m20 0h1m6 0h1m4 0h1m6 0h1m4 0h1m6 0h1m4 0h1m17 0h1m6 0h1m4 0h1m6 0h1m4 0h1m7 0h1m6 0h1m8 0h1m6 0h1m4 0h1m6 0h1m10 0h1m6 0h1m4 0h1m4 0h1m6 0h1m4 0h1m4 0h1m22 0h1m5 0h1m5 0h1m5 0h1m5 0h1m5 0h1m15 0h1m6 0h1m3 0h1m6 0h1m4 0h1m4 0h1m4 0h1m6 0h1m4 0h1m7 0h1m6 0h1m5 0h1m6 0h1m4 0h1m6 0h1m4 0h1m6 0h1m10 0h1m6 0h1m4 0h1m8 0h1m6 0h1m3 0h1m6 0h1m3 0h1m6 0h1m15 0h1m6 0h1m7 0h1m6 0h1m4 0h1m6 0h1m4 0h1m6 0h1m3 0h1m5 0h1m6 0h1m4 0h1m6 0h1m4 0h1m6 0h1m14 0h1m6 0h1m4 0h1m6 0h1m5 0h1m1 0h1m-891 1h1m7 0h1m5 0h1m4 0h1m5 0h2m21 0h1m5 0h1m3 0h1m5 0h2m4 0h1m6 0h1m15 0h1m4 0h2m5 0h1m4 0h1m5 0h1m5 0h2m4 0h1m5 0h2m4 0h1m4 0h1m5 0h1m4 0h1m4 0h1m6 0h1m5 0h1m4 0h1m5 0h1m6 0h1m15 0h1m6 0h1m5 0h2m4 0h1m4 0h1m4 0h1m5 0h2m4 0h1m8 0h1m4 0h1m5 0h1m5 0h2m5 0h1m4 0h1m5 0h2m4 0h1m7 0h2m5 0h1m4 0h1m5 0h1m4 0h1m21 0h1m6 0h1m4 0h1m5 0h1m5 0h1m5 0h2m4 0h1m17 0h1m6 0h1m4 0h1m5 0h1m5 0h1m7 0h1m5 0h1m9 0h1m5 0h1m5 0h1m6 0h1m5 0h1m4 0h2m5 0h1m4 0h1m4 0h1m6 0h1m4 0h1m5 0h1m21 0h2m4 0h1m5 0h1m4 0h2m5 0h1m4 0h2m15 0h1m5 0h1m4 0h1m5 0h2m4 0h1m4 0h1m4 0h2m5 0h1m4 0h1m8 0h1m4 0h2m5 0h1m6 0h1m4 0h1m5 0h1m5 0h1m6 0h1m5 0h1m5 0h1m4 0h2m4 0h1m8 0h1m5 0h1m4 0h1m5 0h1m4 0h1m6 0h1m15 0h1m6 0h1m8 0h1m4 0h2m4 0h1m6 0h1m4 0h1m6 0h1m3 0h1m5 0h1m6 0h1m4 0h1m5 0h1m5 0h1m6 0h1m14 0h1m5 0h2m4 0h1m5 0h2m6 0h1m-890 1h1m8 0h5m6 0h7m21 0h6m5 0h5m1 0h1m4 0h1m6 0h1m16 0h6m6 0h5m6 0h7m4 0h6m1 0h1m4 0h1m4 0h7m4 0h1m5 0h3m3 0h1m6 0h5m5 0h1m6 0h1m15 0h1m7 0h7m4 0h1m4 0h1m5 0h5m1 0h1m4 0h1m9 0h5m5 0h2m4 0h7m6 0h5m1 0h1m4 0h1m7 0h1m1 0h5m5 0h1m6 0h5m21 0h1m6 0h1m5 0h6m6 0h5m1 0h1m4 0h1m17 0h1m6 0h1m5 0h6m5 0h1m7 0h1m4 0h8m4 0h6m5 0h1m6 0h1m4 0h2m4 0h1m1 0h5m5 0h1m4 0h1m6 0h1m4 0h1m6 0h1m20 0h6m7 0h6m6 0h6m16 0h5m6 0h7m4 0h1m4 0h1m4 0h7m5 0h1m9 0h6m6 0h3m3 0h1m5 0h6m5 0h1m6 0h1m4 0h2m6 0h6m4 0h1m9 0h5m6 0h6m4 0h1m6 0h1m16 0h3m3 0h1m9 0h6m4 0h1m6 0h1m4 0h7m4 0h1m5 0h4m3 0h1m5 0h5m6 0h1m6 0h1m15 0h7m5 0h7m6 0h1m-767 1h1m146 0h1m4 0h1m31 0h1m171 0h1m4 0h1m205 0h1m11 0h1m186 0h1m-767 1h1m145 0h1m5 0h1m31 0h1m171 0h1m4 0h1m205 0h1m11 0h1m185 0h1m-766 1h1m145 0h1m5 0h1m31 0h1m170 0h1m5 0h1m204 0h1m12 0h1m185 0h1m-766 1h1m151 0h1m31 0h1m176 0h1m212 0h1m3 0h1m185 0h1m-765 1h1m151 0h1m31 0h1m176 0h1m213 0h3m184 0h2"/></g>
<g id="data"><path id="threshold" stroke="#000" d="M406 370.5h769"/>
<path id="points" stroke="#000" d="M711 59.5h1m3 0h1m3 0h1m-8 1h1m2 0h1m2 0h1m-6 1h1m1 0h1m1 0h1m-4 1h3m-6 1h9m-6 1h3m-4 1h1m1 0h1m1 0h1m-6 1h1m2 0h1m2 0h1m-8 1h1m3 0h1m3 0h1m-10 76h1m3 0h1m3 0h1m-8 1h1m2 0h1m2 0h1m-6 1h1m1 0h1m1 0h1m-4 1h3m-6 1h9m-6 1h3m-4 1h1m1 0h1m1 0h1m-6 1h1m2 0h1m2 0h1m-8 1h1m3 0h1m3 0h1m361 26h1m3 0h1m3 0h1m-8 1h1m2 0h1m2 0h1m-6 1h1m1 0h1m1 0h1m-4 1h3m-6 1h9m-6 1h3m-4 1h1m1 0h1m1 0h1m-6 1h1m2 0h1m2 0h1m-8 1h1m3 0h1m3 0h1m-377 7h1m3 0h1m3 0h1m-8 1h1m2 0h1m2 0h1m-6 1h1m1 0h1m1 0h1m-4 1h3m-6 1h9m-6 1h3m-4 1h1m1 0h1m1 0h1m-6 1h1m2 0h1m2 0h1m-8 1h1m3 0h1m3 0h1m3 16h1m3 0h1m3 0h1m355 0h1m3 0h1m3 0h1m-372 1h1m2 0h1m2 0h1m357 0h1m2 0h1m2 0h1m-370 1h1m1 0h1m1 0h1m359 0h1m1 0h1m1 0h1m-368 1h3m361 0h3m-370 1h9m355 0h9m-370 1h3m361 0h3m-368 1h1m1 0h1m1 0h1m359 0h1m1 0h1m1 0h1m-370 1h1m2 0h1m2 0h1m357 0h1m2 0h1m2 0h1m-372 1h1m3 0h1m3 0h1m355 0h1m3 0h1m3 0h1m-381 26h1m3 0h1m3 0h1m-8 1h1m2 0h1m2 0h1m-6 1h1m1 0h1m1 0h1m-4 1h3m-6 1h9m-6 1h3m-4 1h1m1 0h1m1 0h1m-6 1h1m2 0h1m2 0h1m-8 1h1m3 0h1m3 0h1m-4 4h1m3 0h1m3 0h1m-8 1h1m2 0h1m2 0h1m-6 1h1m1 0h1m1 0h1m-4 1h3m-6 1h9m-6 1h3m-4 1h1m1 0h1m1 0h1m-6 1h1m2 0h1m2 0h1m-8 1h1m3 0h1m3 0h1m-5 2h1m3 0h1m3 0h1m-8 1h1m2 0h1m2 0h1m-6 1h1m1 0h1m1 0h1m-4 1h3m-6 1h9m-6 1h3m-4 1h1m1 0h1m1 0h1m-6 1h1m2 0h1m2 0h1m-8 1h1m3 0h1m3 0h1m353 6h1m3 0h1m3 0h1m-8 1h1m2 0h1m2 0h1m-6 1h1m1 0h1m1 0h1m-4 1h3m-6 1h9m-6 1h3m-4 1h1m1 0h1m1 0h1m-6 1h1m2 0h1m2 0h1m-8 1h1m3 0h1m3 0h1m-392 10h1m3 0h1m3 0h1m-8 1h1m2 0h1m2 0h1m-6 1h1m1 0h1m1 0h1m-4 1h3m-6 1h9m-6 1h3m-4 1h1m1 0h1m1 0h1m-6 1h1m2 0h1m2 0h1m-8 1h1m3 0h1m3 0h1m-27 6h1m3 0h1m3 0h1m-8 1h1m2 0h1m2 0h1m-6 1h1m1 0h1m1 0h1m-4 1h3m-6 1h9m-6 1h3m-4 1h1m1 0h1m1 0h1m-6 1h1m2 0h1m2 0h1m-8 1h1m3 0h1m3 0h1m27 3h1m3 0h1m3 0h1m-8 1h1m2 0h1m2 0h1m-6 1h1m1 0h1m1 0h1m-38 1h1m3 0h1m3 0h1m25 0h3m-36 1h1m2 0h1m2 0h1m23 0h9m-38 1h1m1 0h1m1 0h1m27 0h3m-34 1h3m27 0h1m1 0h1m1 0h1m-38 1h9m23 0h1m2 0h1m2 0h1m-36 1h3m25 0h1m3 0h1m3 0h1m-38 1h1m1 0h1m1 0h1m-6 1h1m2 0h1m2 0h1m-8 1h1m3 0h1m3 0h1m36 31h1m3 0h1m3 0h1m-8 1h1m2 0h1m2 0h1m-7 1h2m1 0h3m2 0h1m-8 1h4m2 0h1m-48 1h1m3 0h1m3 0h1m30 0h9m-47 1h1m2 0h1m2 0h1m34 0h4m-44 1h1m1 0h1m1 0h1m25 0h1m3 0h1m3 0h9m-46 1h3m27 0h1m2 0h1m2 0h2m2 0h4m-47 1h9m25 0h1m1 0h1m1 0h2m2 0h3m1 0h2m-45 1h3m29 0h3m3 0h1m2 0h1m2 0h1m-46 1h1m1 0h1m1 0h1m25 0h9m3 0h1m3 0h1m-48 1h1m2 0h1m2 0h1m27 0h3m-38 1h1m3 0h1m3 0h1m25 0h1m1 0h1m1 0h1m-6 1h1m2 0h1m2 0h1m-8 1h1m3 0h1m3 0h1m-53 6h1m3 0h1m3 0h1m-8 1h1m2 0h1m2 0h1m-6 1h1m1 0h1m1 0h1m-4 1h3m-6 1h9m-6 1h3m-4 1h1m1 0h1m1 0h1m46 0h1m3 0h1m3 0h1m353 0h2m2 0h2m1 0h3m1 0h1m2 0h2m2 0h3m1 0h3m3 0h1m-720 1h1m3 0h2m2 0h2m2 0h2m2 0h3m1 0h1m1 0h1m1 0h1m1 0h3m1 0h3m2 0h1m121 0h1m3 0h1m3 0h1m111 0h1m2 0h1m2 0h1m46 0h1m2 0h1m2 0h1m355 0h2m1 0h2m1 0h2m2 0h1m2 0h3m1 0h2m1 0h2m1 0h1m2 0h1m-726 1h1m1 0h3m1 0h3m1 0h12m1 0h1m1 0h2m1 0h9m1 0h1m2 0h1m1 0h1m1 0h1m1 0h1m1 0h3m1 0h15m1 0h3m1 0h1m1 0h1m1 0h1m1 0h1m3 0h1m81 0h1m2 0h1m2 0h1m111 0h1m3 0h1m3 0h1m46 0h1m1 0h1m1 0h1m329 0h1m3 0h1m3 0h1m19 0h6m1 0h1m1 0h1m1 0h1m2 0h7m1 0h1m1 0h1m-724 1h1m1 0h2m1 0h2m1 0h3m1 0h2m1 0h8m1 0h7m1 0h1m1 0h45m1 0h2m5 0h1m3 0h2m1 0h3m1 0h1m1 0h1m1 0h1m49 0h1m3 0h1m2 0h2m2 0h1m1 0h3m1 0h2m3 0h1m163 0h3m70 0h1m3 0h1m3 0h1m16 0h1m3 0h1m3 0h1m36 0h1m3 0h1m3 0h1m175 0h1m3 0h1m2 0h2m1 0h2m1 0h1m1 0h1m19 0h4m3 0h3m4 0h4m2 0h3m-722 1h1m1 0h9m1 0h36m1 0h19m1 0h5m1 0h5m3 0h3m1 0h4m1 0h7m1 0h3m1 0h3m3 0h1m3 0h1m3 0h1m3 0h1m3 0h1m1 0h3m1 0h8m1 0h3m1 0h3m1 0h4m1 0h2m2 0h2m1 0h2m2 0h3m1 0h1m2 0h2m2 0h2m2 0h1m113 0h1m3 0h1m3 0h1m31 0h10m1 0h1m1 0h3m2 0h1m3 0h1m5 0h1m2 0h2m2 0h2m2 0h1m37 0h1m2 0h1m2 0h1m18 0h1m2 0h1m2 0h1m38 0h1m2 0h1m2 0h1m104 0h1m3 0h1m3 0h1m18 0h1m3 0h1m3 0h1m15 0h2m2 0h2m1 0h3m1 0h2m1 0h3m1 0h3m1 0h4m2 0h2m1 0h3m1 0h1m17 0h29m-724 1h48m1 0h5m1 0h5m1 0h17m1 0h4m1 0h2m1 0h6m1 0h11m1 0h3m1 0h27m1 0h13m1 0h1m1 0h1m1 0h2m1 0h12m1 0h1m2 0h1m2 0h1m3 0h1m3 0h1m89 0h1m3 0h1m3 0h1m9 0h2m1 0h1m1 0h2m2 0h1m32 0h4m1 0h2m1 0h2m1 0h2m2 0h1m1 0h2m2 0h1m3 0h2m2 0h1m1 0h2m2 0h2m2 0h2m3 0h1m5 0h2m2 0h2m2 0h2m3 0h1m3 0h1m3 0h1m3 0h6m1 0h1m1 0h1m1 0h1m13 0h1m1 0h1m1 0h1m40 0h1m1 0h1m1 0h1m87 0h1m3 0h1m3 0h1m10 0h1m2 0h1m2 0h1m16 0h1m3 0h1m2 0h2m1 0h1m5 0h1m3 0h1m3 0h1m3 0h2m1 0h2m1 0h3m1 0h2m1 0h3m1 0h2m1 0h5m1 0h1m2 0h3m1 0h1m21 0h4m3 0h3m4 0h4m2 0h3m-724 1h94m2 0h23m1 0h5m1 0h5m1 0h12m1 0h7m1 0h1m2 0h3m1 0h1m1 0h4m1 0h7m1 0h4m1 0h1m1 0h1m2 0h2m1 0h2m3 0h1m23 0h1m3 0h1m3 0h1m2 0h2m2 0h2m1 0h2m2 0h2m2 0h1m9 0h1m3 0h1m3 0h1m18 0h1m1 0h2m2 0h1m3 0h1m7 0h3m1 0h1m2 0h1m31 0h2m1 0h4m1 0h1m1 0h1m1 0h1m2 0h1m1 0h1m1 0h2m2 0h2m1 0h1m1 0h2m1 0h4m1 0h2m1 0h2m1 0h1m2 0h1m3 0h1m3 0h2m1 0h5m1 0h1m1 0h3m2 0h1m2 0h2m4 0h5m1 0h2m1 0h3m3 0h1m3 0h1m5 0h3m42 0h3m23 0h1m3 0h1m2 0h2m2 0h1m3 0h1m16 0h1m3 0h1m3 0h1m14 0h1m1 0h3m1 0h3m1 0h2m2 0h1m2 0h1m3 0h1m3 0h1m3 0h2m1 0h3m1 0h2m2 0h1m3 0h1m6 0h1m1 0h1m1 0h3m1 0h1m1 0h1m1 0h1m1 0h3m1 0h8m1 0h1m1 0h7m1 0h6m1 0h7m1 0h12m19 0h6m1 0h1m1 0h1m1 0h1m2 0h7m1 0h1m1 0h1m-722 1h9m1 0h19m1 0h1m1 0h22m1 0h5m1 0h23m1 0h18m1 0h7m1 0h23m2 0h12m1 0h27m2 0h2m1 0h3m1 0h1m2 0h2m2 0h2m1 0h2m2 0h2m2 0h1m3 0h1m3 0h1m2 0h1m2 0h1m2 0h1m1 0h1m2 0h1m2 0h2m1 0h2m2 0h1m2 0h1m7 0h3m1 0h9m2 0h1m3 0h2m1 0h1m1 0h3m1 0h4m1 0h1m1 0h2m2 0h1m9 0h4m1 0h1m32 0h2m1 0h9m4 0h4m1 0h5m1 0h2m1 0h8m1 0h2m1 0h1m1 0h1m1 0h1m2 0h2m1 0h1m1 0h7m1 0h2m1 0h5m1 0h2m2 0h10m1 0h3m1 0h7m1 0h1m1 0h9m2 0h2m2 0h2m1 0h2m1 0h2m2 0h3m1 0h1m1 0h1m3 0h1m1 0h1m1 0h3m2 0h10m7 0h1m3 0h1m3 0h1m2 0h2m1 0h11m1 0h2m10 0h1m3 0h3m1 0h4m1 0h2m16 0h1m1 0h2m1 0h2m1 0h4m1 0h3m1 0h2m1 0h1m1 0h2m3 0h1m1 0h4m2 0h3m1 0h4m1 0h2m2 0h2m1 0h9m3 0h1m1 0h2m1 0h6m1 0h2m1 0h1m2 0h4m3 0h4m3 0h20m17 0h2m1 0h2m1 0h2m2 0h1m2 0h3m1 0h2m1 0h2m1 0h1m2 0h1m-724 1h1m1 0h11m1 0h6m1 0h1m1 0h12m1 0h1m1 0h6m1 0h3m1 0h23m1 0h5m1 0h40m1 0h33m1 0h27m1 0h4m1 0h3m1 0h1m2 0h2m1 0h2m2 0h2m1 0h3m1 0h2m2 0h1m3 0h2m1 0h3m1 0h1m1 0h1m1 0h4m1 0h1m1 0h4m1 0h1m9 0h9m1 0h2m1 0h2m2 0h2m1 0h4m1 0h2m1 0h1m2 0h3m1 0h1m1 0h1m7 0h9m31 0h1m2 0h23m1 0h14m1 0h3m2 0h2m1 0h1m1 0h1m3 0h4m1 0h1m1 0h1m1 0h1m2 0h6m2 0h1m2 0h9m1 0h2m1 0h5m1 0h1m5 0h3m3 0h1m2 0h2m1 0h1m2 0h2m2 0h4m2 0h1m2 0h2m1 0h2m2 0h1m2 0h4m2 0h5m2 0h2m2 0h3m1 0h7m2 0h1m1 0h9m1 0h5m4 0h1m1 0h1m1 0h3m1 0h7m1 0h5m2 0h1m1 0h1m1 0h1m1 0h1m1 0h1m1 0h2m3 0h2m1 0h6m2 0h5m1 0h2m1 0h3m1 0h2m1 0h9m1 0h3m1 0h2m1 0h2m1 0h3m2 0h1m1 0h9m1 0h1m1 0h8m1 0h1m1 0h31m1 0h3m19 0h2m2 0h2m1 0h3m1 0h1m2 0h2m2 0h3m1 0h3m3 0h1m-726 1h1m1 0h2m1 0h2m1 0h9m1 0h2m1 0h8m1 0h1m1 0h3m1 0h56m1 0h2m1 0h3m1 0h57m1 0h4m1 0h1m1 0h4m1 0h9m1 0h11m1 0h4m1 0h1m1 0h4m1 0h1m1 0h1m1 0h1m1 0h1m1 0h3m1 0h2m1 0h3m2 0h1m2 0h6m1 0h6m11 0h7m1 0h2m1 0h3m1 0h21m10 0h9m33 0h3m1 0h5m4 0h12m2 0h17m1 0h3m1 0h12m1 0h11m1 0h20m2 0h2m1 0h3m1 0h1m2 0h2m1 0h6m1 0h2m1 0h4m1 0h3m1 0h1m1 0h1m1 0h1m1 0h3m1 0h4m1 0h6m2 0h2m1 0h1m1 0h10m1 0h3m1 0h13m2 0h2m1 0h23m1 0h7m1 0h1m2 0h1m2 0h1m1 0h6m1 0h14m2 0h1m1 0h7m4 0h10m2 0h10m5 0h12m4 0h4m3 0h4m3 0h4m2 0h3m1 0h2m1 0h3m1 0h1m-680 1h1m1 0h3m1 0h3m1 0h3m1 0h3m1 0h4m1 0h1m1 0h2m2 0h1m8 0h14m1 0h23m1 0h9m1 0h20m1 0h5m1 0h1m1 0h11m1 0h12m1 0h14m2 0h2m1 0h3m1 0h2m1 0h3m1 0h1m1 0h25m1 0h6m1 0h3m1 0h3m1 0h1m1 0h28m9 0h9m1 0h4m1 0h1m1 0h11m1 0h9m7 0h1m1 0h4m33 0h13m2 0h15m1 0h4m1 0h3m2 0h3m1 0h9m1 0h22m2 0h19m1 0h1m1 0h2m1 0h1m2 0h1m1 0h1m1 0h7m1 0h1m1 0h6m1 0h1m1 0h3m1 0h3m1 0h1m1 0h8m1 0h1m1 0h4m1 0h2m1 0h8m1 0h2m1 0h1m1 0h17m1 0h14m1 0h9m1 0h2m1 0h3m1 0h1m4 0h13m1 0h35m3 0h9m1 0h1m1 0h24m1 0h6m1 0h7m1 0h6m1 0h2m2 0h1m-659 1h1m3 0h1m3 0h1m6 0h3m1 0h8m3 0h1m14 0h2m2 0h8m2 0h8m1 0h24m1 0h39m1 0h1m1 0h1m2 0h2m1 0h2m2 0h2m1 0h3m2 0h1m2 0h1m2 0h3m1 0h1m1 0h29m1 0h6m1 0h3m1 0h6m1 0h6m9 0h34m1 0h3m9 0h1m2 0h1m1 0h3m35 0h3m1 0h5m1 0h2m2 0h5m1 0h3m2 0h10m1 0h2m1 0h9m3 0h10m3 0h14m1 0h20m2 0h1m3 0h48m1 0h1m1 0h34m1 0h29m6 0h9m2 0h26m1 0h22m2 0h1m3 0h12m2 0h2m1 0h2m1 0h3m1 0h2m1 0h3m1 0h2m1 0h2m1 0h2m1 0h3m2 0h1m3 0h1m-602 1h2m1 0h5m1 0h3m2 0h2m2 0h3m1 0h3m1 0h13m1 0h5m1 0h28m2 0h1m3 0h1m2 0h2m2 0h1m3 0h1m2 0h2m2 0h3m1 0h1m1 0h2m1 0h3m1 0h7m1 0h6m1 0h3m1 0h23m1 0h1m1 0h4m1 0h1m11 0h28m2 0h2m1 0h1m1 0h1m7 0h1m2 0h2m1 0h1m1 0h2m33 0h1m1 0h1m1 0h1m1 0h1m1 0h1m1 0h3m2 0h1m1 0h6m1 0h2m2 0h6m1 0h11m1 0h1m1 0h1m1 0h2m1 0h5m1 0h1m1 0h1m1 0h2m1 0h1m1 0h6m2 0h1m1 0h2m1 0h4m2 0h11m4 0h28m1 0h52m1 0h26m2 0h24m1 0h1m2 0h20m1 0h2m1 0h1m1 0h8m4 0h6m1 0h1m3 0h1m1 0h1m1 0h6m1 0h3m1 0h3m2 0h2m1 0h3m1 0h2m1 0h3m1 0h3m1 0h3m3 0h1m-595 1h2m2 0h2m2 0h2m16 0h3m1 0h3m1 0h3m1 0h14m2 0h2m3 0h2m2 0h2m2 0h2m1 0h1m3 0h1m3 0h1m21 0h1m1 0h2m2 0h2m2 0h1m1 0h6m1 0h1m1 0h4m1 0h1m1 0h1m1 0h1m1 0h1m1 0h3m1 0h3m1 0h1m2 0h3m2 0h1m2 0h2m1 0h2m2 0h1m2 0h1m9 0h7m1 0h4m1 0h1m1 0h3m1 0h4m1 0h4m1 0h1m1 0h1m2 0h2m1 0h1m8 0h1m3 0h1m3 0h1m31 0h1m2 0h2m1 0h2m2 0h1m4 0h1m2 0h1m1 0h4m2 0h1m2 0h1m1 0h3m2 0h2m2 0h4m1 0h1m1 0h2m2 0h2m2 0h2m1 0h5m1 0h2m2 0h2m1 0h4m1 0h2m1 0h3m1 0h1m1 0h18m4 0h3m1 0h4m1 0h4m1 0h4m1 0h3m1 0h1m1 0h1m1 0h1m1 0h3m1 0h4m1 0h3m1 0h73m6 0h5m1 0h2m1 0h2m2 0h3m1 0h3m1 0h1m2 0h5m1 0h1m1 0h3m1 0h2m2 0h1m1 0h7m2 0h3m1 0h2m1 0h1m1 0h1m3 0h1m1 0h9m1 0h2m1 0h1m-528 1h1m3 0h1m3 0h1m51 0h1m3 0h1m2 0h2m2 0h2m2 0h1m2 0h2m1 0h2m2 0h2m1 0h3m1 0h3m1 0h1m1 0h3m1 0h2m1 0h1m1 0h1m1 0h3m2 0h2m1 0h2m2 0h2m2 0h1m7 0h9m1 0h3m1 0h2m1 0h1m1 0h8m1 0h1m2 0h1m3 0h1m3 0h1m46 0h1m3 0h1m3 0h1m3 0h1m2 0h1m3 0h2m2 0h2m3 0h2m2 0h1m2 0h1m5 0h1m1 0h1m1 0h2m2 0h1m3 0h1m2 0h1m1 0h1m1 0h1m1 0h1m1 0h3m2 0h1m2 0h2m1 0h1m2 0h1m1 0h1m2 0h2m1 0h1m1 0h2m1 0h10m6 0h1m1 0h1m1 0h2m2 0h1m1 0h3m1 0h2m2 0h2m1 0h1m1 0h3m1 0h3m1 0h1m1 0h2m2 0h2m1 0h1m1 0h1m1 0h56m1 0h5m1 0h6m1 0h1m1 0h1m4 0h6m1 0h3m1 0h3m2 0h5m1 0h2m1 0h3m1 0h2m1 0h3m1 0h3m1 0h2m1 0h5m1 0h4m1 0h1m1 0h2m2 0h1m3 0h1m1 0h3m1 0h6m1 0h1m1 0h1m1 0h1m-458 1h1m2 0h2m2 0h2m1 0h2m2 0h2m2 0h1m3 0h1m2 0h2m1 0h2m2 0h2m2 0h1m2 0h1m21 0h3m1 0h3m1 0h5m1 0h2m2 0h9m1 0h3m2 0h1m81 0h1m3 0h1m3 0h1m3 0h1m1 0h2m2 0h1m3 0h1m17 0h1m2 0h2m2 0h2m2 0h1m2 0h1m3 0h3m1 0h3m1 0h6m1 0h1m4 0h1m1 0h2m1 0h2m2 0h2m1 0h2m1 0h2m2 0h5m1 0h1m3 0h1m1 0h5m2 0h2m1 0h2m1 0h2m2 0h1m1 0h55m1 0h8m1 0h2m1 0h1m2 0h1m2 0h1m2 0h1m6 0h1m3 0h1m3 0h1m3 0h2m1 0h1m1 0h2m2 0h1m3 0h1m1 0h1m2 0h2m2 0h2m2 0h2m2 0h1m3 0h1m-414 1h1m3 0h1m3 0h1m2 0h2m2 0h1m3 0h1m27 0h1m3 0h1m2 0h2m2 0h2m2 0h2m2 0h2m98 0h1m3 0h1m3 0h1m45 0h1m2 0h1m2 0h1m2 0h1m2 0h1m3 0h1m3 0h1m1 0h1m3 0h1m3 0h2m3 0h1m3 0h1m1 0h1m3 0h1m3 0h2m3 0h1m2 0h2m2 0h7m1 0h8m1 0h1m1 0h1m1 0h1m1 0h2m1 0h8m1 0h1m1 0h4m1 0h12m2 0h1m2 0h5m1 0h3m1 0h1m1 0h2m3 0h1m3 0h1m16 0h1m3 0h1m3 0h1m-168 1h1m2 0h2m2 0h2m2 0h1m50 0h2m1 0h1m1 0h2m1 0h3m1 0h1m1 0h1m1 0h1m1 0h5m1 0h3m1 0h1m1 0h2m1 0h8m1 0h6m1 0h1m2 0h2m2 0h1m1 0h3m1 0h2m2 0h2m-69 1h1m3 0h1m3 0h1m7 0h1m1 0h1m1 0h1m1 0h1m1 0h3m1 0h3m1 0h3m1 0h1m1 0h1m3 0h1"/>
<path id="near-horizon" stroke="#9900ff" d="M1084 177.5h1m-2 1h1m1 0h1m-3 1h1m1 0h1m-4 1h1m3 0h1m-5 1h1m3 0h1m-6 1h1m5 0h1m-7 1h1m5 0h1m-8 1h1m7 0h1m-9 1h9m3 31h1m-2 1h1m1 0h1m-3 1h1m1 0h1m-4 1h1m3 0h1m-5 1h1m3 0h1m-6 1h1m5 0h1m-7 1h1m5 0h1m-8 1h1m7 0h1m-9 1h9m-6 62h1m-2 1h1m1 0h1m-3 1h1m1 0h1m-4 1h1m3 0h1m-5 1h1m3 0h1m-6 1h1m5 0h1m-7 1h1m5 0h1m-8 1h1m7 0h1m-9 1h9m8 103h2m5 0h1m6 0h2m4 0h1m-712 1h1m4 0h1m3 0h1m2 0h1m5 0h1m1 0h1m1 0h1m1 0h1m2 0h1m662 0h4m3 0h1m1 0h1m4 0h4m2 0h1m1 0h1m-720 1h1m1 0h2m2 0h1m1 0h1m1 0h4m1 0h1m1 0h2m1 0h2m2 0h1m1 0h1m1 0h1m1 0h1m1 0h2m1 0h1m7 0h1m1 0h1m3 0h3m3 0h3m3 0h3m5 0h1m5 0h1m596 0h1m24 0h4m3 0h1m1 0h1m4 0h4m2 0h1m1 0h1m-721 1h1m1 0h9m1 0h1m1 0h6m1 0h1m1 0h1m1 0h1m1 0h1m1 0h1m1 0h1m1 0h2m1 0h1m1 0h3m2 0h1m1 0h1m1 0h1m1 0h5m1 0h5m1 0h5m2 0h2m1 0h1m2 0h2m1 0h1m11 0h1m4 0h1m1 0h1m570 0h1m4 0h1m1 0h1m22 0h2m2 0h2m1 0h1m3 0h1m2 0h2m2 0h3m3 0h1m-722 1h1m1 0h5m1 0h1m1 0h3m1 0h2m1 0h3m1 0h4m1 0h1m1 0h1m1 0h1m1 0h3m2 0h5m1 0h5m1 0h5m1 0h5m1 0h5m1 0h5m1 0h5m4 0h1m4 0h2m1 0h1m2 0h1m1 0h1m1 0h1m1 0h3m11 0h1m11 0h1m5 0h3m4 0h1m5 0h3m499 0h2m5 0h2m5 0h2m4 0h1m1 0h1m3 0h4m21 0h2m2 0h2m1 0h1m3 0h1m2 0h2m2 0h3m3 0h1m-723 1h1m1 0h3m1 0h2m2 0h3m1 0h3m2 0h3m1 0h1m1 0h1m1 0h1m1 0h1m1 0h1m1 0h3m2 0h6m1 0h1m1 0h1m1 0h3m1 0h5m1 0h5m1 0h7m1 0h5m1 0h1m1 0h2m1 0h1m2 0h5m2 0h10m3 0h3m3 0h1m1 0h2m4 0h2m2 0h1m1 0h2m2 0h5m2 0h1m1 0h2m2 0h5m487 0h1m9 0h4m3 0h4m3 0h4m2 0h4m2 0h1m1 0h1m1 0h1m20 0h2m4 0h2m5 0h3m4 0h2m4 0h1m-724 1h1m1 0h3m1 0h2m2 0h3m1 0h6m1 0h2m1 0h3m1 0h1m1 0h1m1 0h3m1 0h4m1 0h5m1 0h5m1 0h5m1 0h5m1 0h5m1 0h5m1 0h8m2 0h4m1 0h2m1 0h1m1 0h1m1 0h5m2 0h5m2 0h5m2 0h4m1 0h5m1 0h5m2 0h5m1 0h5m482 0h1m1 0h3m1 0h2m1 0h1m5 0h4m3 0h4m3 0h4m2 0h1m1 0h1m1 0h1m1 0h2m2 0h2m19 0h2m4 0h2m5 0h3m4 0h2m4 0h1m-725 1h1m1 0h2m2 0h5m1 0h2m1 0h2m1 0h2m1 0h3m1 0h1m1 0h1m1 0h1m1 0h1m1 0h3m1 0h4m1 0h4m3 0h3m3 0h3m3 0h3m3 0h3m2 0h4m2 0h2m1 0h4m1 0h4m1 0h6m1 0h4m1 0h3m1 0h5m1 0h1m1 0h4m1 0h6m1 0h7m1 0h4m1 0h7m1 0h3m480 0h1m1 0h4m1 0h1m1 0h1m1 0h1m3 0h2m2 0h2m1 0h2m2 0h2m1 0h2m2 0h4m2 0h3m1 0h1m3 0h1m18 0h2m5 0h3m4 0h2m4 0h1m1 0h2m4 0h1m-726 1h1m1 0h2m2 0h1m1 0h5m1 0h3m1 0h2m1 0h4m1 0h3m1 0h1m1 0h3m1 0h4m1 0h1m1 0h3m3 0h3m3 0h3m3 0h3m3 0h3m3 0h3m3 0h4m1 0h5m2 0h5m3 0h3m1 0h6m1 0h6m1 0h6m1 0h4m1 0h5m1 0h6m1 0h5m1 0h3m480 0h1m1 0h4m1 0h3m1 0h1m3 0h2m2 0h2m1 0h2m2 0h2m1 0h2m2 0h3m3 0h1m1 0h2m4 0h2m17 0h29m-727 1h1m1 0h2m2 0h41m2 0h3m1 0h1m1 0h5m1 0h5m2 0h4m2 0h2m1 0h1m2 0h4m1 0h5m3 0h4m2 0h4m2 0h5m1 0h3m1 0h2m2 0h4m1 0h5m2 0h3m3 0h5m2 0h3m3 0h3m478 0h1m1 0h6m1 0h1m1 0h1m1 0h1m1 0h2m4 0h3m4 0h3m4 0h2m4 0h3m5 0h1m-681 1h31m6 0h3m3 0h41m2 0h3m4 0h4m2 0h3m1 0h1m1 0h4m3 0h4m3 0h3m2 0h4m3 0h3m3 0h4m3 0h3m3 0h3m478 0h1m1 0h3m1 0h2m1 0h3m1 0h1m1 0h2m4 0h3m4 0h3m4 0h2m4 0h10m-660 1h9m6 0h16m14 0h16m3 0h18m2 0h3m3 0h4m3 0h3m2 0h4m2 0h4m3 0h4m2 0h4m4 0h3m476 0h1m1 0h2m1 0h5m1 0h1m1 0h1m1 0h2m5 0h3m4 0h3m3 0h17m-603 1h30m3 0h11m1 0h30m476 0h1m1 0h3m1 0h4m2 0h2m1 0h29m-595 1h10m16 0h30m3 0h10m481 0h1m1 0h2m1 0h9m1 0h1m1 0h1m-529 1h9m502 0h18"/>
<path id="bad-cal" stroke="#d400a8" d="M658 406.5h1m172 0h1m84 0h1m6 0h1m24 0h1m-292 1h1m1 0h1m15 0h1m154 0h1m1 0h1m70 0h1m11 0h1m1 0h1m4 0h1m1 0h1m16 0h1m5 0h1m1 0h1m-293 1h1m1 0h1m14 0h1m1 0h1m153 0h1m1 0h1m69 0h1m1 0h1m10 0h1m1 0h1m4 0h1m1 0h1m11 0h1m3 0h1m1 0h1m4 0h1m1 0h1m-294 1h1m3 0h1m13 0h1m1 0h1m152 0h1m3 0h1m68 0h1m1 0h1m9 0h1m3 0h1m2 0h1m3 0h1m9 0h1m1 0h1m2 0h1m1 0h1m3 0h1m3 0h1m-295 1h1m3 0h1m12 0h1m3 0h1m151 0h1m3 0h1m67 0h1m3 0h1m8 0h1m3 0h1m2 0h1m3 0h1m9 0h1m1 0h1m1 0h1m3 0h1m2 0h1m3 0h1m-296 1h1m5 0h1m11 0h1m3 0h1m150 0h1m5 0h1m66 0h1m3 0h1m7 0h1m5 0h2m5 0h1m7 0h1m3 0h2m3 0h1m1 0h1m5 0h1m-297 1h1m5 0h1m10 0h1m5 0h1m149 0h1m5 0h1m65 0h1m5 0h1m6 0h1m5 0h2m5 0h1m7 0h1m3 0h1m5 0h2m5 0h1m-298 1h1m7 0h1m9 0h1m5 0h1m148 0h1m7 0h1m64 0h1m5 0h1m5 0h1m6 0h2m6 0h1m5 0h1m4 0h2m4 0h1m7 0h1m-299 1h9m8 0h1m7 0h1m147 0h9m63 0h1m7 0h1m4 0h16m5 0h1m3 0h1m1 0h1m4 0h9m-282 1h9m219 0h9m24 0h1m4 0h9m-14 1h9"/></g>
</svg>
</body></html>
